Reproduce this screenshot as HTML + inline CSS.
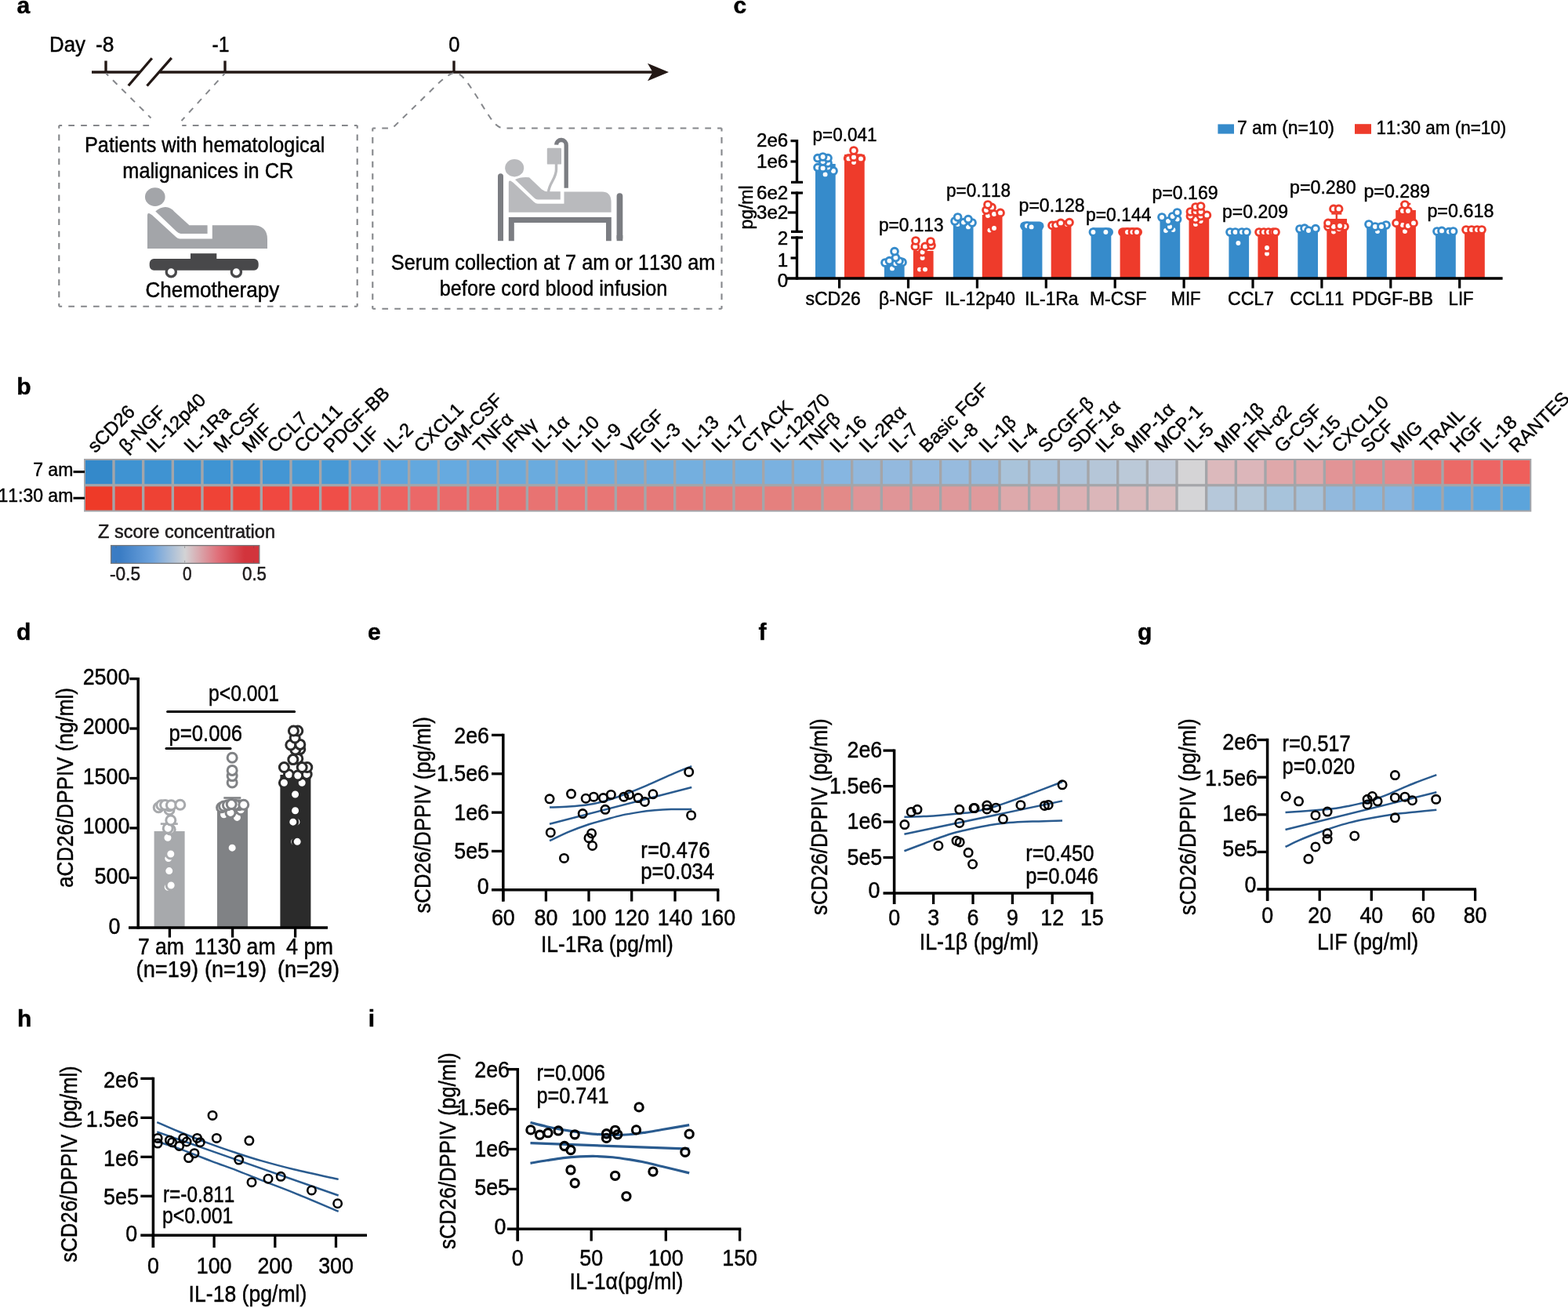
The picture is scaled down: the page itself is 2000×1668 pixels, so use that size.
<!DOCTYPE html>
<html lang="en">
<head>
<meta charset="utf-8">
<title>Figure: sCD26/DPPIV circadian serum levels and cytokine correlations</title>
<style>
html,body{margin:0;padding:0;background:#fff;}
body{width:2000px;height:1668px;overflow:hidden;}
svg{display:block;}
svg text{font-family:"Liberation Sans", Arial, Helvetica, sans-serif;stroke:#000;stroke-width:0.45px;font-kerning:none;}
</style>
</head>
<body>
<svg width="2000" height="1668" viewBox="0 0 2000 1668">
<rect width="2000" height="1668" fill="#fff"/>
<text transform="translate(21.50 17.00)" x="0.00" y="0" font-size="30" font-weight="bold">a</text>
<text transform="translate(63.00 66.00) scale(0.9305 1)" x="0.00" y="0" font-size="27.8">Day</text>
<text transform="translate(122.00 66.00) scale(0.9506 1)" x="0.00" y="0" font-size="27.8">-8</text>
<text transform="translate(270.60 66.00) scale(0.8900 1)" x="0.00" y="0" font-size="27.8">-1</text>
<text transform="translate(572.30 66.00) scale(0.9184 1)" x="0.00" y="0" font-size="27.8">0</text>
<line x1="117.00" y1="92.00" x2="178.50" y2="92.00" stroke="#231815" stroke-width="3.6" />
<line x1="203.50" y1="92.00" x2="834.00" y2="92.00" stroke="#231815" stroke-width="3.6" />
<line x1="135.00" y1="77.50" x2="135.00" y2="92.00" stroke="#231815" stroke-width="3.4" />
<line x1="287.00" y1="77.50" x2="287.00" y2="92.00" stroke="#231815" stroke-width="3.4" />
<line x1="579.00" y1="77.50" x2="579.00" y2="92.00" stroke="#231815" stroke-width="3.4" />
<path d="M853 92 L826 80.8 L832.5 92 L826 103.2 Z" fill="#231815" stroke="none" stroke-width="1" />
<line x1="163.80" y1="109.30" x2="193.80" y2="74.30" stroke="#231815" stroke-width="3.3" />
<line x1="187.50" y1="109.50" x2="218.80" y2="73.80" stroke="#231815" stroke-width="3.3" />
<line x1="135.20" y1="93.50" x2="192.50" y2="150.50" stroke="#85878b" stroke-width="2" stroke-dasharray="7.7 8.2" stroke-dashoffset="3.5"/>
<line x1="286.80" y1="93.50" x2="231.50" y2="154.00" stroke="#85878b" stroke-width="2" stroke-dasharray="7.7 8.2" stroke-dashoffset="3.5"/>
<line x1="75.30" y1="160.00" x2="190.21" y2="160.00" stroke="#85878b" stroke-width="2.1" stroke-dasharray="7.700 8.150" stroke-dashoffset="3.850"/>
<line x1="455.70" y1="160.00" x2="232.22" y2="160.00" stroke="#85878b" stroke-width="2.1" stroke-dasharray="7.700 8.150" stroke-dashoffset="3.850"/>
<line x1="75.30" y1="390.80" x2="455.70" y2="390.80" stroke="#85878b" stroke-width="2.1" stroke-dasharray="7.700 8.150" stroke-dashoffset="3.850"/>
<line x1="75.30" y1="160.00" x2="75.30" y2="390.80" stroke="#85878b" stroke-width="2.1" stroke-dasharray="7.700 7.687" stroke-dashoffset="3.850"/>
<line x1="455.70" y1="160.00" x2="455.70" y2="390.80" stroke="#85878b" stroke-width="2.1" stroke-dasharray="7.700 7.687" stroke-dashoffset="3.850"/>
<line x1="475.30" y1="393.80" x2="920.50" y2="393.80" stroke="#85878b" stroke-width="2.1" stroke-dasharray="7.700 8.200" stroke-dashoffset="3.850"/>
<line x1="475.30" y1="163.60" x2="475.30" y2="393.80" stroke="#85878b" stroke-width="2.1" stroke-dasharray="7.700 7.647" stroke-dashoffset="3.850"/>
<line x1="920.50" y1="163.60" x2="920.50" y2="393.80" stroke="#85878b" stroke-width="2.1" stroke-dasharray="7.700 7.647" stroke-dashoffset="3.850"/>
<path d="M475.3 163.6 L498.5 163.6 L501.8 162.2 L561 104.5 C569 97.5 576 92.8 580.6 92.8 C585 92.8 590 97.5 594 102.5 C606 118 616 137 627 152.5 C632 159.5 637 163.6 643 163.6 L920.5 163.6" fill="none" stroke="#85878b" stroke-width="2" stroke-dasharray="7.7 8.1" stroke-dashoffset="3.85"/>
<text transform="translate(108.00 193.80) scale(0.9098 1)" x="0.00" y="0" font-size="27.8">Patients with hematological</text>
<text transform="translate(156.30 227.00) scale(0.9102 1)" x="0.00" y="0" font-size="27.8">malignanices in CR</text>
<text transform="translate(185.50 378.80) scale(0.9367 1)" x="0.00" y="0" font-size="27.8">Chemotherapy</text>
<text transform="translate(498.80 343.80) scale(0.9106 1)" x="0.00" y="0" font-size="27.8">Serum collection at 7 am or 1130 am</text>
<text transform="translate(560.80 377.00) scale(0.9080 1)" x="0.00" y="0" font-size="27.8">before cord blood infusion</text>
<ellipse cx="197.8" cy="251.2" rx="12.8" ry="11.9" fill="#a3a5a9"/>
<path d="M198.3 269.5 Q204 264.3 211 264 Q218 264.3 222.5 270 L241.5 287.3 L264.6 287.3 L264.6 298 L230.5 298 Q227.5 297.5 225 295 Z" fill="#a3a5a9" stroke="none" stroke-width="1" />
<path d="M188 274.5 Q188 271.3 190.8 272.3 L194 274.2 L224.5 302.3 Q227 304.5 229.5 304.5 L270.8 304.5 L270.8 287.3 L322 287.3 Q341 287.3 341 305 L341 317 L188 317 Z" fill="#a3a5a9" stroke="none" stroke-width="1" />
<rect x="243.00" y="323.20" width="33.30" height="9.00" fill="#48484a" />
<rect x="190.70" y="329.90" width="139.00" height="14.90" fill="#48484a" rx="5.5" ry="6"/>
<circle cx="218.30" cy="346.70" r="6.10" fill="#fff" stroke="#48484a" stroke-width="3.3"/>
<circle cx="301.40" cy="346.70" r="6.10" fill="#fff" stroke="#48484a" stroke-width="3.3"/>
<rect x="635.00" y="221.30" width="7.00" height="85.80" fill="#7b7d82" rx="3.5" ry="3.5"/>
<rect x="635.00" y="300.00" width="7.00" height="7.20" fill="#7b7d82" />
<rect x="786.60" y="246.30" width="7.70" height="60.80" fill="#7b7d82" rx="3.8" ry="3.8"/>
<rect x="786.60" y="300.00" width="7.70" height="7.20" fill="#7b7d82" />
<path d="M648.8 277 L779.8 277 L779.8 307.2 L773 307.2 L773 284 L655.8 284 L655.8 307.2 L648.8 307.2 Z" fill="#7b7d82" stroke="none" stroke-width="1" />
<path d="M648.8 232.8 Q648.8 229.8 651.5 230.8 L654.5 232.8 L681 257.5 Q683.5 259.8 686 259.8 L719.5 259.8 L719.5 244.5 L768 244.5 Q779.6 244.5 779.6 258 L779.6 270.8 L648.8 270.8 Z" fill="#b9babd" stroke="none" stroke-width="1" />
<ellipse cx="656.2" cy="214.2" rx="12" ry="11.2" fill="#b9babd"/>
<path d="M657 229 Q664 225.2 675 226.2 L691 241.5 Q694.5 244.2 698 244.2 L714.8 244.2 L714.8 254.6 L686 254.6 Q683.5 254.4 681.5 252.5 Z" fill="#b9babd" stroke="none" stroke-width="1" />
<path d="M722.2 239.8 L722.2 185 A6.3 6.3 0 0 0 709.6 184.6" fill="none" stroke="#7b7d82" stroke-width="5.3" />
<rect x="697.80" y="188.80" width="18.20" height="20.80" fill="#b9babd" rx="1.2" ry="1.2"/>
<path d="M709.5 209 L709.5 216 C709.5 228 700.5 233 699.5 245" fill="none" stroke="#b9babd" stroke-width="3.4" />
<text transform="translate(935.50 17.00)" x="0.00" y="0" font-size="30" font-weight="bold" stroke-width="0.15">c</text>
<rect x="1040.00" y="209.00" width="25.70" height="146.00" fill="#368bcb" />
<rect x="1077.00" y="197.00" width="25.70" height="158.00" fill="#ee3b2b" />
<line x1="1070.60" y1="355.00" x2="1070.60" y2="367.60" stroke="#000" stroke-width="3.2" />
<text transform="translate(1027.40 389.00) scale(1.0042 1)" x="0.00" y="0" font-size="23" stroke-width="0.15">sCD26</text>
<text transform="translate(1036.60 179.60) scale(0.9787 1)" x="0.00" y="0" font-size="23" stroke-width="0.15">p=0.041</text>
<rect x="1127.90" y="335.00" width="25.70" height="20.00" fill="#368bcb" />
<rect x="1164.90" y="320.00" width="25.70" height="35.00" fill="#ee3b2b" />
<line x1="1158.50" y1="355.00" x2="1158.50" y2="367.60" stroke="#000" stroke-width="3.2" />
<text transform="translate(1121.00 389.00) scale(0.9937 1)" x="0.00" y="0" font-size="23" stroke-width="0.15">β-NGF</text>
<text transform="translate(1121.00 295.00) scale(0.9859 1)" x="0.00" y="0" font-size="23" stroke-width="0.15">p=0.113</text>
<rect x="1215.80" y="284.00" width="25.70" height="71.00" fill="#368bcb" />
<rect x="1252.80" y="274.00" width="25.70" height="81.00" fill="#ee3b2b" />
<line x1="1246.40" y1="355.00" x2="1246.40" y2="367.60" stroke="#000" stroke-width="3.2" />
<text transform="translate(1205.00 389.00) scale(0.9912 1)" x="0.00" y="0" font-size="23" stroke-width="0.15">IL-12p40</text>
<text transform="translate(1207.00 251.00) scale(0.9787 1)" x="0.00" y="0" font-size="23" stroke-width="0.15">p=0.118</text>
<rect x="1303.70" y="288.00" width="25.70" height="67.00" fill="#368bcb" />
<rect x="1340.70" y="287.00" width="25.70" height="68.00" fill="#ee3b2b" />
<line x1="1334.30" y1="355.00" x2="1334.30" y2="367.60" stroke="#000" stroke-width="3.2" />
<text transform="translate(1307.00 389.00) scale(0.9937 1)" x="0.00" y="0" font-size="23" stroke-width="0.15">IL-1Ra</text>
<text transform="translate(1299.60 270.00) scale(1.0026 1)" x="0.00" y="0" font-size="23" stroke-width="0.15">p=0.128</text>
<rect x="1391.60" y="296.00" width="25.70" height="59.00" fill="#368bcb" />
<rect x="1428.60" y="296.00" width="25.70" height="59.00" fill="#ee3b2b" />
<line x1="1422.20" y1="355.00" x2="1422.20" y2="367.60" stroke="#000" stroke-width="3.2" />
<text transform="translate(1390.00 389.00) scale(0.9942 1)" x="0.00" y="0" font-size="23" stroke-width="0.15">M-CSF</text>
<text transform="translate(1385.00 282.00) scale(0.9955 1)" x="0.00" y="0" font-size="23" stroke-width="0.15">p=0.144</text>
<rect x="1479.50" y="280.00" width="25.70" height="75.00" fill="#368bcb" />
<rect x="1516.50" y="274.00" width="25.70" height="81.00" fill="#ee3b2b" />
<line x1="1510.10" y1="355.00" x2="1510.10" y2="367.60" stroke="#000" stroke-width="3.2" />
<text transform="translate(1493.60 389.00) scale(0.9596 1)" x="0.00" y="0" font-size="23" stroke-width="0.15">MIF</text>
<text transform="translate(1469.60 254.00) scale(1.0026 1)" x="0.00" y="0" font-size="23" stroke-width="0.15">p=0.169</text>
<rect x="1567.40" y="296.00" width="25.70" height="59.00" fill="#368bcb" />
<rect x="1604.40" y="296.00" width="25.70" height="59.00" fill="#ee3b2b" />
<line x1="1598.00" y1="355.00" x2="1598.00" y2="367.60" stroke="#000" stroke-width="3.2" />
<text transform="translate(1566.00 389.00) scale(1.0033 1)" x="0.00" y="0" font-size="23" stroke-width="0.15">CCL7</text>
<text transform="translate(1559.00 278.00) scale(1.0026 1)" x="0.00" y="0" font-size="23" stroke-width="0.15">p=0.209</text>
<rect x="1655.30" y="292.00" width="25.70" height="63.00" fill="#368bcb" />
<rect x="1692.30" y="279.00" width="25.70" height="76.00" fill="#ee3b2b" />
<line x1="1685.90" y1="355.00" x2="1685.90" y2="367.60" stroke="#000" stroke-width="3.2" />
<text transform="translate(1645.60 389.00) scale(0.9609 1)" x="0.00" y="0" font-size="23" stroke-width="0.15">CCL11</text>
<text transform="translate(1645.00 246.60) scale(1.0098 1)" x="0.00" y="0" font-size="23" stroke-width="0.15">p=0.280</text>
<rect x="1743.20" y="288.00" width="25.70" height="67.00" fill="#368bcb" />
<rect x="1780.20" y="268.00" width="25.70" height="87.00" fill="#ee3b2b" />
<line x1="1773.80" y1="355.00" x2="1773.80" y2="367.60" stroke="#000" stroke-width="3.2" />
<text transform="translate(1724.40 389.00) scale(1.0134 1)" x="0.00" y="0" font-size="23" stroke-width="0.15">PDGF-BB</text>
<text transform="translate(1739.40 251.60) scale(1.0098 1)" x="0.00" y="0" font-size="23" stroke-width="0.15">p=0.289</text>
<rect x="1831.10" y="295.00" width="25.70" height="60.00" fill="#368bcb" />
<rect x="1868.10" y="293.00" width="25.70" height="62.00" fill="#ee3b2b" />
<line x1="1861.70" y1="355.00" x2="1861.70" y2="367.60" stroke="#000" stroke-width="3.2" />
<text transform="translate(1847.60 389.00) scale(0.9629 1)" x="0.00" y="0" font-size="23" stroke-width="0.15">LIF</text>
<text transform="translate(1820.40 277.00) scale(1.0145 1)" x="0.00" y="0" font-size="23" stroke-width="0.15">p=0.618</text>
<line x1="1016.50" y1="178.00" x2="1016.50" y2="234.00" stroke="#000" stroke-width="3.4" />
<line x1="1016.50" y1="244.40" x2="1016.50" y2="297.00" stroke="#000" stroke-width="3.4" />
<line x1="1016.50" y1="301.40" x2="1016.50" y2="356.60" stroke="#000" stroke-width="3.4" />
<line x1="1008.50" y1="179.60" x2="1016.50" y2="179.60" stroke="#000" stroke-width="3.2" />
<line x1="1008.50" y1="206.00" x2="1016.50" y2="206.00" stroke="#000" stroke-width="3.2" />
<line x1="1004.80" y1="271.00" x2="1016.50" y2="271.00" stroke="#000" stroke-width="3.2" />
<line x1="1008.50" y1="329.00" x2="1016.50" y2="329.00" stroke="#000" stroke-width="3.2" />
<line x1="1009.00" y1="232.40" x2="1024.00" y2="232.40" stroke="#000" stroke-width="3.2" />
<line x1="1009.00" y1="246.00" x2="1024.00" y2="246.00" stroke="#000" stroke-width="3.2" />
<line x1="1009.00" y1="295.40" x2="1024.00" y2="295.40" stroke="#000" stroke-width="3.2" />
<line x1="1009.00" y1="303.00" x2="1024.00" y2="303.00" stroke="#000" stroke-width="3.2" />
<line x1="1004.00" y1="355.00" x2="1916.60" y2="355.00" stroke="#000" stroke-width="3.4" />
<text transform="translate(1005.30 186.60) scale(1.0500 1)" x="-38.38" y="0" font-size="23" stroke-width="0.15">2e6</text>
<text transform="translate(1005.30 213.60) scale(1.0500 1)" x="-38.38" y="0" font-size="23" stroke-width="0.15">1e6</text>
<text transform="translate(1005.30 254.00) scale(1.0500 1)" x="-38.38" y="0" font-size="23" stroke-width="0.15">6e2</text>
<text transform="translate(1005.30 278.60) scale(1.0500 1)" x="-38.38" y="0" font-size="23" stroke-width="0.15">3e2</text>
<text transform="translate(1005.30 311.60) scale(1.0500 1)" x="-12.79" y="0" font-size="23" stroke-width="0.15">2</text>
<text transform="translate(1005.30 340.00) scale(1.0500 1)" x="-12.79" y="0" font-size="23" stroke-width="0.15">1</text>
<text transform="translate(1005.30 366.20) scale(1.0500 1)" x="-12.79" y="0" font-size="23" stroke-width="0.15">0</text>
<text transform="translate(960.00 264.50) rotate(-90)" x="-28.12" y="0" font-size="23" stroke-width="0.15">pg/ml</text>
<line x1="1704.80" y1="272.40" x2="1704.80" y2="280.00" stroke="#ee3b2b" stroke-width="2.4" />
<line x1="1698.30" y1="272.40" x2="1711.30" y2="272.40" stroke="#ee3b2b" stroke-width="2.4" />
<line x1="1792.80" y1="260.00" x2="1792.80" y2="269.00" stroke="#ee3b2b" stroke-width="2.4" />
<line x1="1786.30" y1="260.00" x2="1799.30" y2="260.00" stroke="#ee3b2b" stroke-width="2.4" />
<line x1="1081.50" y1="202.00" x2="1098.50" y2="202.00" stroke="#ee3b2b" stroke-width="11.4" stroke-linecap="round"/>
<line x1="1306.80" y1="288.20" x2="1325.80" y2="288.20" stroke="#368bcb" stroke-width="11.4" stroke-linecap="round"/>
<line x1="1394.80" y1="296.00" x2="1414.30" y2="296.00" stroke="#368bcb" stroke-width="11.4" stroke-linecap="round"/>
<line x1="1431.80" y1="296.00" x2="1451.30" y2="296.00" stroke="#ee3b2b" stroke-width="11.4" stroke-linecap="round"/>
<circle cx="1052.60" cy="222.40" r="4.40" fill="#fff" stroke="#368bcb" stroke-width="2.9"/>
<circle cx="1063.00" cy="218.00" r="4.40" fill="#fff" stroke="#368bcb" stroke-width="2.9"/>
<circle cx="1043.00" cy="213.60" r="4.40" fill="#fff" stroke="#368bcb" stroke-width="2.9"/>
<circle cx="1056.00" cy="213.60" r="4.40" fill="#fff" stroke="#368bcb" stroke-width="2.9"/>
<circle cx="1049.60" cy="214.40" r="4.40" fill="#fff" stroke="#368bcb" stroke-width="2.9"/>
<circle cx="1056.00" cy="208.00" r="4.40" fill="#fff" stroke="#368bcb" stroke-width="2.9"/>
<circle cx="1049.60" cy="206.00" r="4.40" fill="#fff" stroke="#368bcb" stroke-width="2.9"/>
<circle cx="1043.00" cy="201.60" r="4.40" fill="#fff" stroke="#368bcb" stroke-width="2.9"/>
<circle cx="1056.00" cy="201.60" r="4.40" fill="#fff" stroke="#368bcb" stroke-width="2.9"/>
<circle cx="1049.60" cy="200.00" r="4.40" fill="#fff" stroke="#368bcb" stroke-width="2.9"/>
<circle cx="1089.00" cy="207.00" r="4.40" fill="#fff" stroke="#ee3b2b" stroke-width="2.9"/>
<circle cx="1082.40" cy="202.40" r="4.40" fill="#fff" stroke="#ee3b2b" stroke-width="2.9"/>
<circle cx="1089.00" cy="200.40" r="4.40" fill="#fff" stroke="#ee3b2b" stroke-width="2.9"/>
<circle cx="1098.00" cy="202.40" r="4.40" fill="#fff" stroke="#ee3b2b" stroke-width="2.9"/>
<circle cx="1089.00" cy="192.00" r="4.40" fill="#fff" stroke="#ee3b2b" stroke-width="2.9"/>
<circle cx="1138.00" cy="342.40" r="4.40" fill="#fff" stroke="#368bcb" stroke-width="2.9"/>
<circle cx="1129.00" cy="335.00" r="4.40" fill="#fff" stroke="#368bcb" stroke-width="2.9"/>
<circle cx="1151.00" cy="334.40" r="4.40" fill="#fff" stroke="#368bcb" stroke-width="2.9"/>
<circle cx="1142.40" cy="336.00" r="4.40" fill="#fff" stroke="#368bcb" stroke-width="2.9"/>
<circle cx="1134.40" cy="332.60" r="4.40" fill="#fff" stroke="#368bcb" stroke-width="2.9"/>
<circle cx="1147.00" cy="333.00" r="4.40" fill="#fff" stroke="#368bcb" stroke-width="2.9"/>
<circle cx="1142.40" cy="328.60" r="4.40" fill="#fff" stroke="#368bcb" stroke-width="2.9"/>
<circle cx="1141.00" cy="320.60" r="4.40" fill="#fff" stroke="#368bcb" stroke-width="2.9"/>
<circle cx="1173.00" cy="343.60" r="4.40" fill="#fff" stroke="#ee3b2b" stroke-width="2.9"/>
<circle cx="1180.00" cy="343.60" r="4.40" fill="#fff" stroke="#ee3b2b" stroke-width="2.9"/>
<circle cx="1176.60" cy="329.00" r="4.40" fill="#fff" stroke="#ee3b2b" stroke-width="2.9"/>
<circle cx="1176.60" cy="321.60" r="4.40" fill="#fff" stroke="#ee3b2b" stroke-width="2.9"/>
<circle cx="1167.40" cy="314.40" r="4.40" fill="#fff" stroke="#ee3b2b" stroke-width="2.9"/>
<circle cx="1180.00" cy="314.40" r="4.40" fill="#fff" stroke="#ee3b2b" stroke-width="2.9"/>
<circle cx="1188.00" cy="313.00" r="4.40" fill="#fff" stroke="#ee3b2b" stroke-width="2.9"/>
<circle cx="1168.00" cy="307.00" r="4.40" fill="#fff" stroke="#ee3b2b" stroke-width="2.9"/>
<circle cx="1187.00" cy="308.00" r="4.40" fill="#fff" stroke="#ee3b2b" stroke-width="2.9"/>
<circle cx="1235.00" cy="289.40" r="4.40" fill="#fff" stroke="#368bcb" stroke-width="2.9"/>
<circle cx="1221.60" cy="286.00" r="4.40" fill="#fff" stroke="#368bcb" stroke-width="2.9"/>
<circle cx="1240.00" cy="284.00" r="4.40" fill="#fff" stroke="#368bcb" stroke-width="2.9"/>
<circle cx="1218.00" cy="282.00" r="4.40" fill="#fff" stroke="#368bcb" stroke-width="2.9"/>
<circle cx="1229.00" cy="283.60" r="4.40" fill="#fff" stroke="#368bcb" stroke-width="2.9"/>
<circle cx="1235.00" cy="279.60" r="4.40" fill="#fff" stroke="#368bcb" stroke-width="2.9"/>
<circle cx="1221.60" cy="277.00" r="4.40" fill="#fff" stroke="#368bcb" stroke-width="2.9"/>
<circle cx="1262.40" cy="293.60" r="4.40" fill="#fff" stroke="#ee3b2b" stroke-width="2.9"/>
<circle cx="1268.00" cy="291.00" r="4.40" fill="#fff" stroke="#ee3b2b" stroke-width="2.9"/>
<circle cx="1260.00" cy="275.00" r="4.40" fill="#fff" stroke="#ee3b2b" stroke-width="2.9"/>
<circle cx="1268.00" cy="273.00" r="4.40" fill="#fff" stroke="#ee3b2b" stroke-width="2.9"/>
<circle cx="1276.00" cy="271.40" r="4.40" fill="#fff" stroke="#ee3b2b" stroke-width="2.9"/>
<circle cx="1258.00" cy="268.00" r="4.40" fill="#fff" stroke="#ee3b2b" stroke-width="2.9"/>
<circle cx="1265.00" cy="264.40" r="4.40" fill="#fff" stroke="#ee3b2b" stroke-width="2.9"/>
<circle cx="1260.00" cy="261.00" r="4.40" fill="#fff" stroke="#ee3b2b" stroke-width="2.9"/>
<circle cx="1310.00" cy="288.00" r="4.40" fill="#fff" stroke="#368bcb" stroke-width="2.9"/>
<circle cx="1315.60" cy="289.40" r="4.40" fill="#fff" stroke="#368bcb" stroke-width="2.9"/>
<circle cx="1342.00" cy="287.40" r="4.40" fill="#fff" stroke="#ee3b2b" stroke-width="2.9"/>
<circle cx="1347.00" cy="287.20" r="4.40" fill="#fff" stroke="#ee3b2b" stroke-width="2.9"/>
<circle cx="1361.00" cy="286.00" r="4.40" fill="#fff" stroke="#ee3b2b" stroke-width="2.9"/>
<circle cx="1364.00" cy="283.60" r="4.40" fill="#fff" stroke="#ee3b2b" stroke-width="2.9"/>
<circle cx="1353.00" cy="284.40" r="4.40" fill="#fff" stroke="#ee3b2b" stroke-width="2.9"/>
<circle cx="1394.40" cy="296.00" r="4.40" fill="#fff" stroke="#368bcb" stroke-width="2.9"/>
<circle cx="1410.40" cy="296.00" r="4.40" fill="#fff" stroke="#368bcb" stroke-width="2.9"/>
<circle cx="1438.00" cy="296.00" r="4.40" fill="#fff" stroke="#ee3b2b" stroke-width="2.9"/>
<circle cx="1444.40" cy="296.00" r="4.40" fill="#fff" stroke="#ee3b2b" stroke-width="2.9"/>
<circle cx="1450.00" cy="296.00" r="4.40" fill="#fff" stroke="#ee3b2b" stroke-width="2.9"/>
<circle cx="1487.00" cy="294.00" r="4.40" fill="#fff" stroke="#368bcb" stroke-width="2.9"/>
<circle cx="1496.40" cy="293.00" r="4.40" fill="#fff" stroke="#368bcb" stroke-width="2.9"/>
<circle cx="1492.00" cy="289.00" r="4.40" fill="#fff" stroke="#368bcb" stroke-width="2.9"/>
<circle cx="1490.00" cy="282.00" r="4.40" fill="#fff" stroke="#368bcb" stroke-width="2.9"/>
<circle cx="1501.60" cy="279.60" r="4.40" fill="#fff" stroke="#368bcb" stroke-width="2.9"/>
<circle cx="1495.60" cy="276.00" r="4.40" fill="#fff" stroke="#368bcb" stroke-width="2.9"/>
<circle cx="1482.00" cy="277.00" r="4.40" fill="#fff" stroke="#368bcb" stroke-width="2.9"/>
<circle cx="1501.60" cy="271.00" r="4.40" fill="#fff" stroke="#368bcb" stroke-width="2.9"/>
<circle cx="1525.00" cy="286.00" r="4.40" fill="#fff" stroke="#ee3b2b" stroke-width="2.9"/>
<circle cx="1531.60" cy="282.00" r="4.40" fill="#fff" stroke="#ee3b2b" stroke-width="2.9"/>
<circle cx="1525.00" cy="279.60" r="4.40" fill="#fff" stroke="#ee3b2b" stroke-width="2.9"/>
<circle cx="1518.40" cy="275.60" r="4.40" fill="#fff" stroke="#ee3b2b" stroke-width="2.9"/>
<circle cx="1531.60" cy="275.60" r="4.40" fill="#fff" stroke="#ee3b2b" stroke-width="2.9"/>
<circle cx="1539.40" cy="274.40" r="4.40" fill="#fff" stroke="#ee3b2b" stroke-width="2.9"/>
<circle cx="1518.40" cy="270.00" r="4.40" fill="#fff" stroke="#ee3b2b" stroke-width="2.9"/>
<circle cx="1525.00" cy="270.00" r="4.40" fill="#fff" stroke="#ee3b2b" stroke-width="2.9"/>
<circle cx="1531.60" cy="270.00" r="4.40" fill="#fff" stroke="#ee3b2b" stroke-width="2.9"/>
<circle cx="1525.00" cy="264.00" r="4.40" fill="#fff" stroke="#ee3b2b" stroke-width="2.9"/>
<circle cx="1531.60" cy="263.00" r="4.40" fill="#fff" stroke="#ee3b2b" stroke-width="2.9"/>
<circle cx="1579.40" cy="310.00" r="4.40" fill="#fff" stroke="#368bcb" stroke-width="2.9"/>
<circle cx="1569.00" cy="296.00" r="4.40" fill="#fff" stroke="#368bcb" stroke-width="2.9"/>
<circle cx="1575.60" cy="296.00" r="4.40" fill="#fff" stroke="#368bcb" stroke-width="2.9"/>
<circle cx="1584.00" cy="296.00" r="4.40" fill="#fff" stroke="#368bcb" stroke-width="2.9"/>
<circle cx="1590.00" cy="296.00" r="4.40" fill="#fff" stroke="#368bcb" stroke-width="2.9"/>
<circle cx="1616.00" cy="323.60" r="4.40" fill="#fff" stroke="#ee3b2b" stroke-width="2.9"/>
<circle cx="1616.00" cy="316.00" r="4.40" fill="#fff" stroke="#ee3b2b" stroke-width="2.9"/>
<circle cx="1606.00" cy="296.00" r="4.40" fill="#fff" stroke="#ee3b2b" stroke-width="2.9"/>
<circle cx="1612.00" cy="296.00" r="4.40" fill="#fff" stroke="#ee3b2b" stroke-width="2.9"/>
<circle cx="1618.00" cy="296.00" r="4.40" fill="#fff" stroke="#ee3b2b" stroke-width="2.9"/>
<circle cx="1624.00" cy="296.00" r="4.40" fill="#fff" stroke="#ee3b2b" stroke-width="2.9"/>
<circle cx="1627.00" cy="296.00" r="4.40" fill="#fff" stroke="#ee3b2b" stroke-width="2.9"/>
<circle cx="1658.00" cy="292.00" r="4.40" fill="#fff" stroke="#368bcb" stroke-width="2.9"/>
<circle cx="1664.00" cy="291.20" r="4.40" fill="#fff" stroke="#368bcb" stroke-width="2.9"/>
<circle cx="1678.00" cy="291.60" r="4.40" fill="#fff" stroke="#368bcb" stroke-width="2.9"/>
<circle cx="1669.00" cy="294.00" r="4.40" fill="#fff" stroke="#368bcb" stroke-width="2.9"/>
<circle cx="1701.00" cy="295.60" r="4.40" fill="#fff" stroke="#ee3b2b" stroke-width="2.9"/>
<circle cx="1694.00" cy="289.00" r="4.40" fill="#fff" stroke="#ee3b2b" stroke-width="2.9"/>
<circle cx="1715.00" cy="289.00" r="4.40" fill="#fff" stroke="#ee3b2b" stroke-width="2.9"/>
<circle cx="1708.00" cy="292.00" r="4.40" fill="#fff" stroke="#ee3b2b" stroke-width="2.9"/>
<circle cx="1701.00" cy="289.00" r="4.40" fill="#fff" stroke="#ee3b2b" stroke-width="2.9"/>
<circle cx="1709.00" cy="288.00" r="4.40" fill="#fff" stroke="#ee3b2b" stroke-width="2.9"/>
<circle cx="1694.00" cy="284.40" r="4.40" fill="#fff" stroke="#ee3b2b" stroke-width="2.9"/>
<circle cx="1701.00" cy="266.40" r="4.40" fill="#fff" stroke="#ee3b2b" stroke-width="2.9"/>
<circle cx="1707.60" cy="266.40" r="4.40" fill="#fff" stroke="#ee3b2b" stroke-width="2.9"/>
<circle cx="1757.00" cy="295.00" r="4.40" fill="#fff" stroke="#368bcb" stroke-width="2.9"/>
<circle cx="1746.00" cy="286.00" r="4.40" fill="#fff" stroke="#368bcb" stroke-width="2.9"/>
<circle cx="1768.00" cy="287.00" r="4.40" fill="#fff" stroke="#368bcb" stroke-width="2.9"/>
<circle cx="1754.00" cy="289.00" r="4.40" fill="#fff" stroke="#368bcb" stroke-width="2.9"/>
<circle cx="1762.00" cy="289.00" r="4.40" fill="#fff" stroke="#368bcb" stroke-width="2.9"/>
<circle cx="1792.00" cy="295.00" r="4.40" fill="#fff" stroke="#ee3b2b" stroke-width="2.9"/>
<circle cx="1789.00" cy="287.00" r="4.40" fill="#fff" stroke="#ee3b2b" stroke-width="2.9"/>
<circle cx="1796.00" cy="288.00" r="4.40" fill="#fff" stroke="#ee3b2b" stroke-width="2.9"/>
<circle cx="1781.00" cy="284.40" r="4.40" fill="#fff" stroke="#ee3b2b" stroke-width="2.9"/>
<circle cx="1803.00" cy="284.40" r="4.40" fill="#fff" stroke="#ee3b2b" stroke-width="2.9"/>
<circle cx="1789.00" cy="269.00" r="4.40" fill="#fff" stroke="#ee3b2b" stroke-width="2.9"/>
<circle cx="1796.00" cy="269.00" r="4.40" fill="#fff" stroke="#ee3b2b" stroke-width="2.9"/>
<circle cx="1792.00" cy="261.00" r="4.40" fill="#fff" stroke="#ee3b2b" stroke-width="2.9"/>
<circle cx="1833.00" cy="295.00" r="4.40" fill="#fff" stroke="#368bcb" stroke-width="2.9"/>
<circle cx="1839.00" cy="294.40" r="4.40" fill="#fff" stroke="#368bcb" stroke-width="2.9"/>
<circle cx="1848.00" cy="295.60" r="4.40" fill="#fff" stroke="#368bcb" stroke-width="2.9"/>
<circle cx="1853.60" cy="295.00" r="4.40" fill="#fff" stroke="#368bcb" stroke-width="2.9"/>
<circle cx="1870.00" cy="293.00" r="4.40" fill="#fff" stroke="#ee3b2b" stroke-width="2.9"/>
<circle cx="1877.00" cy="293.00" r="4.40" fill="#fff" stroke="#ee3b2b" stroke-width="2.9"/>
<circle cx="1884.00" cy="293.00" r="4.40" fill="#fff" stroke="#ee3b2b" stroke-width="2.9"/>
<circle cx="1890.00" cy="293.00" r="4.40" fill="#fff" stroke="#ee3b2b" stroke-width="2.9"/>
<rect x="1553.40" y="158.40" width="20.60" height="12.20" fill="#368bcb" />
<text transform="translate(1578.00 171.00) scale(0.9948 1)" x="0.00" y="0" font-size="23" stroke-width="0.15">7 am (n=10)</text>
<rect x="1728.00" y="158.20" width="21.00" height="12.60" fill="#ee3b2b" />
<text transform="translate(1755.60 171.00) scale(0.9787 1)" x="0.00" y="0" font-size="23" stroke-width="0.15">11:30 am (n=10)</text>
<text transform="translate(21.30 503.00)" x="0.00" y="0" font-size="30" font-weight="bold" stroke-width="0.22">b</text>
<rect x="107.00" y="585.00" width="1846.30" height="67.60" fill="#a4a5a9" />
<rect x="109.00" y="587.00" width="34.30" height="30.20" fill="#3489CA" />
<rect x="109.00" y="620.40" width="34.30" height="30.20" fill="#EE3A28" />
<text transform="translate(121.50 578.50) rotate(-45)" x="0.00" y="0" font-size="24" stroke-width="0.22">sCD26</text>
<rect x="146.67" y="587.00" width="34.30" height="30.20" fill="#3F93D2" />
<rect x="146.67" y="620.40" width="34.30" height="30.20" fill="#EE4133" />
<text transform="translate(161.57 578.50) rotate(-45)" x="0.00" y="0" font-size="24" stroke-width="0.22">β-NGF</text>
<rect x="184.33" y="587.00" width="34.30" height="30.20" fill="#3F93D2" />
<rect x="184.33" y="620.40" width="34.30" height="30.20" fill="#EE4234" />
<text transform="translate(196.83 578.50) rotate(-45)" x="0.00" y="0" font-size="24" stroke-width="0.22">IL-12p40</text>
<rect x="222.00" y="587.00" width="34.30" height="30.20" fill="#3F94D3" />
<rect x="222.00" y="620.40" width="34.30" height="30.20" fill="#EE4235" />
<text transform="translate(244.50 578.50) rotate(-45)" x="0.00" y="0" font-size="24" stroke-width="0.22">IL-1Ra</text>
<rect x="259.67" y="587.00" width="34.30" height="30.20" fill="#3F94D3" />
<rect x="259.67" y="620.40" width="34.30" height="30.20" fill="#EF4336" />
<text transform="translate(282.17 578.50) rotate(-45)" x="0.00" y="0" font-size="24" stroke-width="0.22">M-CSF</text>
<rect x="297.34" y="587.00" width="34.30" height="30.20" fill="#4094D3" />
<rect x="297.34" y="620.40" width="34.30" height="30.20" fill="#EF4438" />
<text transform="translate(318.84 578.50) rotate(-45)" x="0.00" y="0" font-size="24" stroke-width="0.22">MIF</text>
<rect x="335.00" y="587.00" width="34.30" height="30.20" fill="#4396D4" />
<rect x="335.00" y="620.40" width="34.30" height="30.20" fill="#F04840" />
<text transform="translate(350.50 578.50) rotate(-45)" x="0.00" y="0" font-size="24" stroke-width="0.22">CCL7</text>
<rect x="372.67" y="587.00" width="34.30" height="30.20" fill="#4699D5" />
<rect x="372.67" y="620.40" width="34.30" height="30.20" fill="#F04C46" />
<text transform="translate(385.17 578.50) rotate(-45)" x="0.00" y="0" font-size="24" stroke-width="0.22">CCL11</text>
<rect x="410.34" y="587.00" width="34.30" height="30.20" fill="#4899D5" />
<rect x="410.34" y="620.40" width="34.30" height="30.20" fill="#EF4E48" />
<text transform="translate(422.84 578.50) rotate(-45)" x="0.00" y="0" font-size="24" stroke-width="0.22">PDGF-BB</text>
<rect x="448.00" y="587.00" width="34.30" height="30.20" fill="#5A9FDB" />
<rect x="448.00" y="620.40" width="34.30" height="30.20" fill="#EE5F5C" />
<text transform="translate(460.50 578.50) rotate(-45)" x="0.00" y="0" font-size="24" stroke-width="0.22">LIF</text>
<rect x="485.67" y="587.00" width="34.30" height="30.20" fill="#5EA5DE" />
<rect x="485.67" y="620.40" width="34.30" height="30.20" fill="#ED6361" />
<text transform="translate(499.17 578.50) rotate(-45)" x="0.00" y="0" font-size="24" stroke-width="0.22">IL-2</text>
<rect x="523.34" y="587.00" width="34.30" height="30.20" fill="#63A8DE" />
<rect x="523.34" y="620.40" width="34.30" height="30.20" fill="#EB6868" />
<text transform="translate(537.84 578.50) rotate(-45)" x="0.00" y="0" font-size="24" stroke-width="0.22">CXCL1</text>
<rect x="561.00" y="587.00" width="34.30" height="30.20" fill="#66AAE0" />
<rect x="561.00" y="620.40" width="34.30" height="30.20" fill="#EA6A6A" />
<text transform="translate(575.50 578.50) rotate(-45)" x="0.00" y="0" font-size="24" stroke-width="0.22">GM-CSF</text>
<rect x="598.67" y="587.00" width="34.30" height="30.20" fill="#66A8DE" />
<rect x="598.67" y="620.40" width="34.30" height="30.20" fill="#EA6C6B" />
<text transform="translate(613.17 578.50) rotate(-45)" x="0.00" y="0" font-size="24" stroke-width="0.22">TNFα</text>
<rect x="636.34" y="587.00" width="34.30" height="30.20" fill="#68AADE" />
<rect x="636.34" y="620.40" width="34.30" height="30.20" fill="#EA6E6D" />
<text transform="translate(650.84 578.50) rotate(-45)" x="0.00" y="0" font-size="24" stroke-width="0.22">IFNγ</text>
<rect x="674.00" y="587.00" width="34.30" height="30.20" fill="#6AABDE" />
<rect x="674.00" y="620.40" width="34.30" height="30.20" fill="#E87372" />
<text transform="translate(688.50 578.50) rotate(-45)" x="0.00" y="0" font-size="24" stroke-width="0.22">IL-1α</text>
<rect x="711.67" y="587.00" width="34.30" height="30.20" fill="#6CACDF" />
<rect x="711.67" y="620.40" width="34.30" height="30.20" fill="#E97473" />
<text transform="translate(727.17 578.50) rotate(-45)" x="0.00" y="0" font-size="24" stroke-width="0.22">IL-10</text>
<rect x="749.34" y="587.00" width="34.30" height="30.20" fill="#6EADDF" />
<rect x="749.34" y="620.40" width="34.30" height="30.20" fill="#E87675" />
<text transform="translate(764.84 578.50) rotate(-45)" x="0.00" y="0" font-size="24" stroke-width="0.22">IL-9</text>
<rect x="787.01" y="587.00" width="34.30" height="30.20" fill="#72ADDC" />
<rect x="787.01" y="620.40" width="34.30" height="30.20" fill="#E67877" />
<text transform="translate(802.51 578.50) rotate(-45)" x="0.00" y="0" font-size="24" stroke-width="0.22">VEGF</text>
<rect x="824.67" y="587.00" width="34.30" height="30.20" fill="#72AEDE" />
<rect x="824.67" y="620.40" width="34.30" height="30.20" fill="#E67A79" />
<text transform="translate(840.17 578.50) rotate(-45)" x="0.00" y="0" font-size="24" stroke-width="0.22">IL-3</text>
<rect x="862.34" y="587.00" width="34.30" height="30.20" fill="#74AFDF" />
<rect x="862.34" y="620.40" width="34.30" height="30.20" fill="#E67C7B" />
<text transform="translate(879.84 578.50) rotate(-45)" x="0.00" y="0" font-size="24" stroke-width="0.22">IL-13</text>
<rect x="900.01" y="587.00" width="34.30" height="30.20" fill="#74AFDF" />
<rect x="900.01" y="620.40" width="34.30" height="30.20" fill="#E57E7C" />
<text transform="translate(917.51 578.50) rotate(-45)" x="0.00" y="0" font-size="24" stroke-width="0.22">IL-17</text>
<rect x="937.67" y="587.00" width="34.30" height="30.20" fill="#76B0DF" />
<rect x="937.67" y="620.40" width="34.30" height="30.20" fill="#E57F7D" />
<text transform="translate(955.17 578.50) rotate(-45)" x="0.00" y="0" font-size="24" stroke-width="0.22">CTACK</text>
<rect x="975.34" y="587.00" width="34.30" height="30.20" fill="#7AB1E0" />
<rect x="975.34" y="620.40" width="34.30" height="30.20" fill="#E5807E" />
<text transform="translate(992.84 578.50) rotate(-45)" x="0.00" y="0" font-size="24" stroke-width="0.22">IL-12p70</text>
<rect x="1013.01" y="587.00" width="34.30" height="30.20" fill="#7EB3E0" />
<rect x="1013.01" y="620.40" width="34.30" height="30.20" fill="#E38482" />
<text transform="translate(1030.51 578.50) rotate(-45)" x="0.00" y="0" font-size="24" stroke-width="0.22">TNFβ</text>
<rect x="1050.68" y="587.00" width="34.30" height="30.20" fill="#86B6E1" />
<rect x="1050.68" y="620.40" width="34.30" height="30.20" fill="#E38A88" />
<text transform="translate(1068.18 578.50) rotate(-45)" x="0.00" y="0" font-size="24" stroke-width="0.22">IL-16</text>
<rect x="1088.34" y="587.00" width="34.30" height="30.20" fill="#91B8DD" />
<rect x="1088.34" y="620.40" width="34.30" height="30.20" fill="#E09496" />
<text transform="translate(1105.84 578.50) rotate(-45)" x="0.00" y="0" font-size="24" stroke-width="0.22">IL-2Rα</text>
<rect x="1126.01" y="587.00" width="34.30" height="30.20" fill="#93B9DE" />
<rect x="1126.01" y="620.40" width="34.30" height="30.20" fill="#E09597" />
<text transform="translate(1143.51 578.50) rotate(-45)" x="0.00" y="0" font-size="24" stroke-width="0.22">IL-7</text>
<rect x="1163.68" y="587.00" width="34.30" height="30.20" fill="#95BADE" />
<rect x="1163.68" y="620.40" width="34.30" height="30.20" fill="#DF9799" />
<text transform="translate(1182.18 578.50) rotate(-45)" x="0.00" y="0" font-size="24" stroke-width="0.22">Basic FGF</text>
<rect x="1201.34" y="587.00" width="34.30" height="30.20" fill="#97BBDE" />
<rect x="1201.34" y="620.40" width="34.30" height="30.20" fill="#DF999B" />
<text transform="translate(1219.84 578.50) rotate(-45)" x="0.00" y="0" font-size="24" stroke-width="0.22">IL-8</text>
<rect x="1239.01" y="587.00" width="34.30" height="30.20" fill="#98BADC" />
<rect x="1239.01" y="620.40" width="34.30" height="30.20" fill="#DF9A9C" />
<text transform="translate(1258.51 578.50) rotate(-45)" x="0.00" y="0" font-size="24" stroke-width="0.22">IL-1β</text>
<rect x="1276.68" y="587.00" width="34.30" height="30.20" fill="#A9C3DA" />
<rect x="1276.68" y="620.40" width="34.30" height="30.20" fill="#DDA9AB" />
<text transform="translate(1296.18 578.50) rotate(-45)" x="0.00" y="0" font-size="24" stroke-width="0.22">IL-4</text>
<rect x="1314.34" y="587.00" width="34.30" height="30.20" fill="#AAC3DB" />
<rect x="1314.34" y="620.40" width="34.30" height="30.20" fill="#DDA9AC" />
<text transform="translate(1333.84 578.50) rotate(-45)" x="0.00" y="0" font-size="24" stroke-width="0.22">SCGF-β</text>
<rect x="1352.01" y="587.00" width="34.30" height="30.20" fill="#AFC4DA" />
<rect x="1352.01" y="620.40" width="34.30" height="30.20" fill="#DCB1B4" />
<text transform="translate(1371.51 578.50) rotate(-45)" x="0.00" y="0" font-size="24" stroke-width="0.22">SDF-1α</text>
<rect x="1389.68" y="587.00" width="34.30" height="30.20" fill="#B5C6D8" />
<rect x="1389.68" y="620.40" width="34.30" height="30.20" fill="#DBB6B9" />
<text transform="translate(1407.18 578.50) rotate(-45)" x="0.00" y="0" font-size="24" stroke-width="0.22">IL-6</text>
<rect x="1427.35" y="587.00" width="34.30" height="30.20" fill="#BBC9D8" />
<rect x="1427.35" y="620.40" width="34.30" height="30.20" fill="#DBB9BB" />
<text transform="translate(1444.85 578.50) rotate(-45)" x="0.00" y="0" font-size="24" stroke-width="0.22">MIP-1α</text>
<rect x="1465.01" y="587.00" width="34.30" height="30.20" fill="#C0CAD8" />
<rect x="1465.01" y="620.40" width="34.30" height="30.20" fill="#DABEC0" />
<text transform="translate(1482.51 578.50) rotate(-45)" x="0.00" y="0" font-size="24" stroke-width="0.22">MCP-1</text>
<rect x="1502.68" y="587.00" width="34.30" height="30.20" fill="#D5D4D6" />
<rect x="1502.68" y="620.40" width="34.30" height="30.20" fill="#D5D5D7" />
<text transform="translate(1520.18 578.50) rotate(-45)" x="0.00" y="0" font-size="24" stroke-width="0.22">IL-5</text>
<rect x="1540.35" y="587.00" width="34.30" height="30.20" fill="#DCB9BC" />
<rect x="1540.35" y="620.40" width="34.30" height="30.20" fill="#B6C8DA" />
<text transform="translate(1558.85 578.50) rotate(-45)" x="0.00" y="0" font-size="24" stroke-width="0.22">MIP-1β</text>
<rect x="1578.01" y="587.00" width="34.30" height="30.20" fill="#DCB6BA" />
<rect x="1578.01" y="620.40" width="34.30" height="30.20" fill="#B5C8D9" />
<text transform="translate(1596.51 578.50) rotate(-45)" x="0.00" y="0" font-size="24" stroke-width="0.22">IFN-α2</text>
<rect x="1615.68" y="587.00" width="34.30" height="30.20" fill="#DFA8AA" />
<rect x="1615.68" y="620.40" width="34.30" height="30.20" fill="#A7C3DB" />
<text transform="translate(1635.18 578.50) rotate(-45)" x="0.00" y="0" font-size="24" stroke-width="0.22">G-CSF</text>
<rect x="1653.35" y="587.00" width="34.30" height="30.20" fill="#DFA7A9" />
<rect x="1653.35" y="620.40" width="34.30" height="30.20" fill="#A6C2DB" />
<text transform="translate(1672.85 578.50) rotate(-45)" x="0.00" y="0" font-size="24" stroke-width="0.22">IL-15</text>
<rect x="1691.01" y="587.00" width="34.30" height="30.20" fill="#E29496" />
<rect x="1691.01" y="620.40" width="34.30" height="30.20" fill="#92B9DD" />
<text transform="translate(1708.51 578.50) rotate(-45)" x="0.00" y="0" font-size="24" stroke-width="0.22">CXCL10</text>
<rect x="1728.68" y="587.00" width="34.30" height="30.20" fill="#E48B8D" />
<rect x="1728.68" y="620.40" width="34.30" height="30.20" fill="#88B7E0" />
<text transform="translate(1745.18 578.50) rotate(-45)" x="0.00" y="0" font-size="24" stroke-width="0.22">SCF</text>
<rect x="1766.35" y="587.00" width="34.30" height="30.20" fill="#E4898B" />
<rect x="1766.35" y="620.40" width="34.30" height="30.20" fill="#86B5E0" />
<text transform="translate(1783.85 578.50) rotate(-45)" x="0.00" y="0" font-size="24" stroke-width="0.22">MIG</text>
<rect x="1804.02" y="587.00" width="34.30" height="30.20" fill="#E87471" />
<rect x="1804.02" y="620.40" width="34.30" height="30.20" fill="#6BABDF" />
<text transform="translate(1821.52 578.50) rotate(-45)" x="0.00" y="0" font-size="24" stroke-width="0.22">TRAIL</text>
<rect x="1841.68" y="587.00" width="34.30" height="30.20" fill="#EB6A67" />
<rect x="1841.68" y="620.40" width="34.30" height="30.20" fill="#64A8DE" />
<text transform="translate(1859.18 578.50) rotate(-45)" x="0.00" y="0" font-size="24" stroke-width="0.22">HGF</text>
<rect x="1879.35" y="587.00" width="34.30" height="30.20" fill="#ED6564" />
<rect x="1879.35" y="620.40" width="34.30" height="30.20" fill="#61A7DD" />
<text transform="translate(1897.85 578.50) rotate(-45)" x="0.00" y="0" font-size="24" stroke-width="0.22">IL-18</text>
<rect x="1917.02" y="587.00" width="34.30" height="30.20" fill="#EF5F5B" />
<rect x="1917.02" y="620.40" width="34.30" height="30.20" fill="#5CA4DB" />
<text transform="translate(1934.52 578.50) rotate(-45)" x="0.00" y="0" font-size="24" stroke-width="0.22">RANTES</text>
<text transform="translate(93.30 607.00)" x="-51.13" y="0" font-size="23" stroke-width="0.22">7 am</text>
<text transform="translate(93.30 640.30)" x="-95.90" y="0" font-size="23" stroke-width="0.22">11:30 am</text>
<line x1="93.50" y1="601.70" x2="108.00" y2="601.70" stroke="#000" stroke-width="3" />
<line x1="93.50" y1="635.20" x2="108.00" y2="635.20" stroke="#000" stroke-width="3" />
<defs><linearGradient id="zs" x1="0" y1="0" x2="1" y2="0"><stop offset="0" stop-color="#3a7cc4"/><stop offset="0.06" stop-color="#3a7cc4"/><stop offset="0.28" stop-color="#6ea3dc"/><stop offset="0.5" stop-color="#d3d3d5"/><stop offset="0.72" stop-color="#e0707a"/><stop offset="0.9" stop-color="#d2343c"/><stop offset="1" stop-color="#d2343c"/></linearGradient></defs>
<rect x="141.6" y="695.6" width="189.2" height="22.8" fill="url(#zs)" stroke="#77787b" stroke-width="1.3"/>
<line x1="148.00" y1="696.50" x2="148.00" y2="717.60" stroke="#55565a" stroke-width="0.8" stroke-dasharray="2.5 15.8" stroke-opacity="0.55"/>
<line x1="235.60" y1="696.50" x2="235.60" y2="717.60" stroke="#55565a" stroke-width="0.8" stroke-dasharray="2.5 15.8" stroke-opacity="0.55"/>
<line x1="323.60" y1="696.50" x2="323.60" y2="717.60" stroke="#55565a" stroke-width="0.8" stroke-dasharray="2.5 15.8" stroke-opacity="0.55"/>
<text transform="translate(125.00 685.60)" x="0.00" y="0" font-size="23.5" fill="#231f20" stroke="#231f20" stroke-width="0.22">Z score concentration</text>
<text transform="translate(140.00 740.20) scale(0.9631 1)" x="0.00" y="0" font-size="23.5" fill="#231f20" stroke="#231f20" stroke-width="0.22">-0.5</text>
<text transform="translate(233.00 740.20) scale(0.8875 1)" x="0.00" y="0" font-size="23.5" fill="#231f20" stroke="#231f20" stroke-width="0.22">0</text>
<text transform="translate(309.00 740.20) scale(0.9489 1)" x="0.00" y="0" font-size="23.5" fill="#231f20" stroke="#231f20" stroke-width="0.22">0.5</text>
<text transform="translate(21.00 815.80)" x="0.00" y="0" font-size="30" font-weight="bold">d</text>
<rect x="196.60" y="1060.00" width="39.00" height="123.00" fill="#a7a9ac" />
<rect x="277.00" y="1027.00" width="39.00" height="156.00" fill="#808285" />
<rect x="357.40" y="988.00" width="39.00" height="195.00" fill="#2b2b2b" />
<line x1="215.80" y1="1050.60" x2="215.80" y2="1061.00" stroke="#a7a9ac" stroke-width="2.6" />
<line x1="204.80" y1="1050.60" x2="226.80" y2="1050.60" stroke="#a7a9ac" stroke-width="2.6" />
<line x1="296.30" y1="1017.50" x2="296.30" y2="1028.00" stroke="#808285" stroke-width="2.6" />
<line x1="285.30" y1="1017.50" x2="307.30" y2="1017.50" stroke="#808285" stroke-width="2.6" />
<line x1="176.20" y1="863.90" x2="176.20" y2="1184.70" stroke="#000" stroke-width="3.5" />
<line x1="164.00" y1="1183.00" x2="418.00" y2="1183.00" stroke="#000" stroke-width="3.5" />
<line x1="165.30" y1="865.60" x2="176.40" y2="865.60" stroke="#000" stroke-width="3.3" />
<text transform="translate(165.30 872.90) scale(0.9150 1)" x="-65.18" y="0" font-size="29.3">2500</text>
<line x1="165.30" y1="929.05" x2="176.40" y2="929.05" stroke="#000" stroke-width="3.3" />
<text transform="translate(165.30 936.35) scale(0.9150 1)" x="-65.18" y="0" font-size="29.3">2000</text>
<line x1="165.30" y1="992.50" x2="176.40" y2="992.50" stroke="#000" stroke-width="3.3" />
<text transform="translate(165.30 999.80) scale(0.9150 1)" x="-65.18" y="0" font-size="29.3">1500</text>
<line x1="165.30" y1="1055.95" x2="176.40" y2="1055.95" stroke="#000" stroke-width="3.3" />
<text transform="translate(165.30 1063.25) scale(0.9150 1)" x="-65.18" y="0" font-size="29.3">1000</text>
<line x1="165.30" y1="1119.40" x2="176.40" y2="1119.40" stroke="#000" stroke-width="3.3" />
<text transform="translate(165.30 1126.70) scale(0.9150 1)" x="-48.89" y="0" font-size="29.3">500</text>
<text transform="translate(153.30 1190.50) scale(0.9150 1)" x="-16.30" y="0" font-size="29.3">0</text>
<line x1="216.40" y1="1183.00" x2="216.40" y2="1195.50" stroke="#000" stroke-width="3.3" />
<line x1="296.60" y1="1183.00" x2="296.60" y2="1195.50" stroke="#000" stroke-width="3.3" />
<line x1="376.60" y1="1183.00" x2="376.60" y2="1195.50" stroke="#000" stroke-width="3.3" />
<text transform="translate(92.80 1004.50) rotate(-90) scale(0.8898 1)" x="-143.29" y="0" font-size="29.3">aCD26/DPPIV (ng/ml)</text>
<text transform="translate(176.00 1217.00) scale(0.9057 1)" x="0.00" y="0" font-size="29.3">7 am</text>
<text transform="translate(248.00 1217.00) scale(0.9086 1)" x="0.00" y="0" font-size="29.3">1130 am</text>
<text transform="translate(365.00 1217.00) scale(0.9211 1)" x="0.00" y="0" font-size="29.3">4 pm</text>
<text transform="translate(173.60 1246.00) scale(0.9285 1)" x="0.00" y="0" font-size="29.3">(n=19)</text>
<text transform="translate(261.00 1246.00) scale(0.9238 1)" x="0.00" y="0" font-size="29.3">(n=19)</text>
<text transform="translate(354.00 1246.00) scale(0.9238 1)" x="0.00" y="0" font-size="29.3">(n=29)</text>
<line x1="212.00" y1="954.60" x2="294.00" y2="954.60" stroke="#000" stroke-width="3" stroke-linecap="round"/>
<line x1="213.60" y1="907.60" x2="375.60" y2="907.60" stroke="#000" stroke-width="3" stroke-linecap="round"/>
<text transform="translate(215.60 944.60) scale(0.8751 1)" x="0.00" y="0" font-size="29.3">p=0.006</text>
<text transform="translate(266.00 894.00) scale(0.8433 1)" x="0.00" y="0" font-size="29.3">p&lt;0.001</text>
<circle cx="214.20" cy="1131.20" r="6.00" fill="#fff" stroke="#a7a9ac" stroke-width="3"/>
<circle cx="218.16" cy="1129.04" r="6.00" fill="#fff" stroke="#a7a9ac" stroke-width="3"/>
<circle cx="215.76" cy="1110.56" r="6.00" fill="#fff" stroke="#a7a9ac" stroke-width="3"/>
<circle cx="214.80" cy="1094.60" r="6.00" fill="#fff" stroke="#a7a9ac" stroke-width="3"/>
<circle cx="217.80" cy="1088.96" r="6.00" fill="#fff" stroke="#a7a9ac" stroke-width="3"/>
<circle cx="213.96" cy="1068.20" r="6.00" fill="#fff" stroke="#a7a9ac" stroke-width="3"/>
<circle cx="217.20" cy="1058.00" r="6.00" fill="#fff" stroke="#a7a9ac" stroke-width="3"/>
<circle cx="214.20" cy="1056.20" r="6.00" fill="#fff" stroke="#a7a9ac" stroke-width="3"/>
<circle cx="217.80" cy="1046.00" r="6.00" fill="#fff" stroke="#a7a9ac" stroke-width="3"/>
<circle cx="216.00" cy="1032.80" r="6.00" fill="#fff" stroke="#a7a9ac" stroke-width="3"/>
<circle cx="202.20" cy="1029.80" r="6.00" fill="#fff" stroke="#a7a9ac" stroke-width="3"/>
<circle cx="205.80" cy="1026.80" r="6.00" fill="#fff" stroke="#a7a9ac" stroke-width="3"/>
<circle cx="216.00" cy="1028.00" r="6.00" fill="#fff" stroke="#a7a9ac" stroke-width="3"/>
<circle cx="210.60" cy="1026.56" r="6.00" fill="#fff" stroke="#a7a9ac" stroke-width="3"/>
<circle cx="218.40" cy="1026.80" r="6.00" fill="#fff" stroke="#a7a9ac" stroke-width="3"/>
<circle cx="229.80" cy="1026.20" r="6.00" fill="#fff" stroke="#a7a9ac" stroke-width="3"/>
<circle cx="296.16" cy="1081.16" r="6.00" fill="#fff" stroke="#808285" stroke-width="3"/>
<circle cx="302.40" cy="1042.40" r="6.00" fill="#fff" stroke="#808285" stroke-width="3"/>
<circle cx="285.60" cy="1038.80" r="6.00" fill="#fff" stroke="#808285" stroke-width="3"/>
<circle cx="307.20" cy="1032.80" r="6.00" fill="#fff" stroke="#808285" stroke-width="3"/>
<circle cx="294.00" cy="1036.40" r="6.00" fill="#fff" stroke="#808285" stroke-width="3"/>
<circle cx="282.60" cy="1029.80" r="6.00" fill="#fff" stroke="#808285" stroke-width="3"/>
<circle cx="285.60" cy="1028.00" r="6.00" fill="#fff" stroke="#808285" stroke-width="3"/>
<circle cx="304.80" cy="1026.80" r="6.00" fill="#fff" stroke="#808285" stroke-width="3"/>
<circle cx="290.40" cy="1026.80" r="6.00" fill="#fff" stroke="#808285" stroke-width="3"/>
<circle cx="300.00" cy="1026.20" r="6.00" fill="#fff" stroke="#808285" stroke-width="3"/>
<circle cx="295.20" cy="1025.60" r="6.00" fill="#fff" stroke="#808285" stroke-width="3"/>
<circle cx="310.80" cy="1026.20" r="6.00" fill="#fff" stroke="#808285" stroke-width="3"/>
<circle cx="296.16" cy="998.00" r="6.00" fill="#fff" stroke="#808285" stroke-width="3"/>
<circle cx="296.16" cy="989.60" r="6.00" fill="#fff" stroke="#808285" stroke-width="3"/>
<circle cx="296.16" cy="982.40" r="6.00" fill="#fff" stroke="#808285" stroke-width="3"/>
<circle cx="296.16" cy="966.20" r="6.00" fill="#fff" stroke="#808285" stroke-width="3"/>
<circle cx="375.60" cy="1073.36" r="6.00" fill="#fff" stroke="#2b2b2b" stroke-width="3"/>
<circle cx="379.20" cy="1073.36" r="6.00" fill="#fff" stroke="#2b2b2b" stroke-width="3"/>
<circle cx="378.00" cy="1048.16" r="6.00" fill="#fff" stroke="#2b2b2b" stroke-width="3"/>
<circle cx="373.80" cy="1048.16" r="6.00" fill="#fff" stroke="#2b2b2b" stroke-width="3"/>
<circle cx="376.56" cy="1033.76" r="6.00" fill="#fff" stroke="#2b2b2b" stroke-width="3"/>
<circle cx="376.56" cy="1013.00" r="6.00" fill="#fff" stroke="#2b2b2b" stroke-width="3"/>
<circle cx="362.40" cy="998.24" r="6.00" fill="#fff" stroke="#2b2b2b" stroke-width="3"/>
<circle cx="385.20" cy="998.24" r="6.00" fill="#fff" stroke="#2b2b2b" stroke-width="3"/>
<circle cx="368.40" cy="987.80" r="6.00" fill="#fff" stroke="#2b2b2b" stroke-width="3"/>
<circle cx="391.20" cy="987.44" r="6.00" fill="#fff" stroke="#2b2b2b" stroke-width="3"/>
<circle cx="379.80" cy="989.00" r="6.00" fill="#fff" stroke="#2b2b2b" stroke-width="3"/>
<circle cx="391.80" cy="978.56" r="6.00" fill="#fff" stroke="#2b2b2b" stroke-width="3"/>
<circle cx="362.40" cy="978.56" r="6.00" fill="#fff" stroke="#2b2b2b" stroke-width="3"/>
<circle cx="385.20" cy="978.56" r="6.00" fill="#fff" stroke="#2b2b2b" stroke-width="3"/>
<circle cx="379.80" cy="967.40" r="6.00" fill="#fff" stroke="#2b2b2b" stroke-width="3"/>
<circle cx="373.80" cy="968.60" r="6.00" fill="#fff" stroke="#2b2b2b" stroke-width="3"/>
<circle cx="382.80" cy="955.40" r="6.00" fill="#fff" stroke="#2b2b2b" stroke-width="3"/>
<circle cx="376.80" cy="956.00" r="6.00" fill="#fff" stroke="#2b2b2b" stroke-width="3"/>
<circle cx="370.80" cy="950.00" r="6.00" fill="#fff" stroke="#2b2b2b" stroke-width="3"/>
<circle cx="382.80" cy="949.40" r="6.00" fill="#fff" stroke="#2b2b2b" stroke-width="3"/>
<circle cx="376.20" cy="941.00" r="6.00" fill="#fff" stroke="#2b2b2b" stroke-width="3"/>
<circle cx="379.80" cy="932.00" r="6.00" fill="#fff" stroke="#2b2b2b" stroke-width="3"/>
<circle cx="374.40" cy="932.00" r="6.00" fill="#fff" stroke="#2b2b2b" stroke-width="3"/>
<text transform="translate(469.00 816.00)" x="0.00" y="0" font-size="30" font-weight="bold">e</text>
<path d="M701.02 1050.78 L882.25 1003.95" fill="none" stroke="#2a5b8f" stroke-width="2.5" />
<path d="M701.02 1029.57 C705.15 1029.40 717.47 1029.12 725.80 1028.52 C734.13 1027.93 743.30 1027.19 751.00 1026.00 C758.70 1024.81 765.00 1023.31 772.00 1021.38 C779.00 1019.46 784.25 1017.71 793.00 1014.45 C801.75 1011.20 814.00 1006.30 824.50 1001.85 C835.00 997.41 846.38 991.91 856.00 987.78 C865.63 983.65 877.88 978.86 882.25 977.07" fill="none" stroke="#2a5b8f" stroke-width="2.5" />
<path d="M701.02 1072.20 C705.15 1070.28 717.47 1064.15 725.80 1060.65 C734.13 1057.15 743.30 1053.76 751.00 1051.20 C758.70 1048.65 765.00 1047.25 772.00 1045.32 C779.00 1043.40 786.00 1041.23 793.00 1039.65 C800.00 1038.08 807.00 1036.92 814.00 1035.87 C821.00 1034.82 828.00 1033.98 835.00 1033.35 C842.00 1032.72 848.13 1032.34 856.00 1032.09 C863.88 1031.85 877.88 1031.92 882.25 1031.88" fill="none" stroke="#2a5b8f" stroke-width="2.5" />
<circle cx="701.02" cy="1018.86" r="5.20" fill="none" stroke="#000" stroke-width="2.6"/>
<circle cx="728.53" cy="1012.35" r="5.20" fill="none" stroke="#000" stroke-width="2.6"/>
<circle cx="747.22" cy="1018.23" r="5.20" fill="none" stroke="#000" stroke-width="2.6"/>
<circle cx="757.30" cy="1016.13" r="5.20" fill="none" stroke="#000" stroke-width="2.6"/>
<circle cx="769.48" cy="1017.60" r="5.20" fill="none" stroke="#000" stroke-width="2.6"/>
<circle cx="779.35" cy="1013.40" r="5.20" fill="none" stroke="#000" stroke-width="2.6"/>
<circle cx="795.73" cy="1016.13" r="5.20" fill="none" stroke="#000" stroke-width="2.6"/>
<circle cx="802.45" cy="1013.40" r="5.20" fill="none" stroke="#000" stroke-width="2.6"/>
<circle cx="814.00" cy="1017.60" r="5.20" fill="none" stroke="#000" stroke-width="2.6"/>
<circle cx="822.40" cy="1022.43" r="5.20" fill="none" stroke="#000" stroke-width="2.6"/>
<circle cx="832.90" cy="1012.77" r="5.20" fill="none" stroke="#000" stroke-width="2.6"/>
<circle cx="878.68" cy="984.42" r="5.20" fill="none" stroke="#000" stroke-width="2.6"/>
<circle cx="881.62" cy="1039.65" r="5.20" fill="none" stroke="#000" stroke-width="2.6"/>
<circle cx="743.23" cy="1037.55" r="5.20" fill="none" stroke="#000" stroke-width="2.6"/>
<circle cx="772.00" cy="1032.30" r="5.20" fill="none" stroke="#000" stroke-width="2.6"/>
<circle cx="702.28" cy="1061.70" r="5.20" fill="none" stroke="#000" stroke-width="2.6"/>
<circle cx="754.57" cy="1062.75" r="5.20" fill="none" stroke="#000" stroke-width="2.6"/>
<circle cx="751.00" cy="1068.63" r="5.20" fill="none" stroke="#000" stroke-width="2.6"/>
<circle cx="755.62" cy="1078.50" r="5.20" fill="none" stroke="#000" stroke-width="2.6"/>
<circle cx="719.50" cy="1094.46" r="5.20" fill="none" stroke="#000" stroke-width="2.6"/>
<line x1="641.80" y1="935.70" x2="641.80" y2="1149.50" stroke="#000" stroke-width="3.5" />
<line x1="627.00" y1="1134.80" x2="917.30" y2="1134.80" stroke="#000" stroke-width="3.5" />
<line x1="627.00" y1="937.40" x2="641.80" y2="937.40" stroke="#000" stroke-width="3.3" />
<text transform="translate(624.00 947.60) scale(0.9150 1)" x="-48.89" y="0" font-size="29.3">2e6</text>
<line x1="627.00" y1="986.75" x2="641.80" y2="986.75" stroke="#000" stroke-width="3.3" />
<text transform="translate(624.00 996.40) scale(0.9150 1)" x="-73.32" y="0" font-size="29.3">1.5e6</text>
<line x1="627.00" y1="1036.10" x2="641.80" y2="1036.10" stroke="#000" stroke-width="3.3" />
<text transform="translate(624.00 1045.60) scale(0.9150 1)" x="-48.89" y="0" font-size="29.3">1e6</text>
<line x1="627.00" y1="1085.45" x2="641.80" y2="1085.45" stroke="#000" stroke-width="3.3" />
<text transform="translate(624.00 1095.20) scale(0.9150 1)" x="-48.89" y="0" font-size="29.3">5e5</text>
<text transform="translate(623.60 1140.40) scale(0.9150 1)" x="-16.30" y="0" font-size="29.3">0</text>
<line x1="641.80" y1="1134.80" x2="641.80" y2="1149.50" stroke="#000" stroke-width="3.3" />
<text transform="translate(641.80 1180.30) scale(0.9150 1)" x="-16.30" y="0" font-size="29.3">60</text>
<line x1="696.40" y1="1134.80" x2="696.40" y2="1149.50" stroke="#000" stroke-width="3.3" />
<text transform="translate(696.40 1180.30) scale(0.9150 1)" x="-16.30" y="0" font-size="29.3">80</text>
<line x1="751.00" y1="1134.80" x2="751.00" y2="1149.50" stroke="#000" stroke-width="3.3" />
<text transform="translate(751.00 1180.30) scale(0.9150 1)" x="-24.44" y="0" font-size="29.3">100</text>
<line x1="805.70" y1="1134.80" x2="805.70" y2="1149.50" stroke="#000" stroke-width="3.3" />
<text transform="translate(805.70 1180.30) scale(0.9150 1)" x="-24.44" y="0" font-size="29.3">120</text>
<line x1="861.00" y1="1134.80" x2="861.00" y2="1149.50" stroke="#000" stroke-width="3.3" />
<text transform="translate(861.00 1180.30) scale(0.9150 1)" x="-24.44" y="0" font-size="29.3">140</text>
<line x1="915.80" y1="1134.80" x2="915.80" y2="1149.50" stroke="#000" stroke-width="3.3" />
<text transform="translate(915.80 1180.30) scale(0.9150 1)" x="-24.44" y="0" font-size="29.3">160</text>
<text transform="translate(690.00 1214.40) scale(0.9025 1)" x="0.00" y="0" font-size="29.3">IL-1Ra (pg/ml)</text>
<text transform="translate(548.80 1039.30) rotate(-90) scale(0.8791 1)" x="-142.47" y="0" font-size="29.3">sCD26/DPPIV (pg/ml)</text>
<text transform="translate(817.30 1093.60) scale(0.8803 1)" x="0.00" y="0" font-size="29.3">r=0.476</text>
<text transform="translate(817.30 1120.80) scale(0.8789 1)" x="0.00" y="0" font-size="29.3">p=0.034</text>
<text transform="translate(967.60 816.00)" x="0.00" y="0" font-size="30" font-weight="bold">f</text>
<path d="M1153.43 1063.80 L1355.03 1021.38" fill="none" stroke="#2a5b8f" stroke-width="2.5" />
<path d="M1153.43 1041.75 C1157.53 1041.65 1170.41 1041.47 1178.00 1041.12 C1185.60 1040.77 1192.00 1040.21 1199.00 1039.65 C1206.00 1039.09 1213.00 1038.46 1220.00 1037.76 C1227.00 1037.06 1234.00 1036.64 1241.00 1035.45 C1248.00 1034.26 1255.00 1032.55 1262.00 1030.62 C1269.00 1028.70 1274.25 1026.95 1283.00 1023.90 C1291.75 1020.86 1302.50 1016.83 1314.50 1012.35 C1326.51 1007.87 1348.28 999.58 1355.03 997.02" fill="none" stroke="#2a5b8f" stroke-width="2.5" />
<path d="M1153.43 1085.22 C1157.53 1083.68 1170.41 1078.85 1178.00 1075.98 C1185.60 1073.11 1192.00 1070.45 1199.00 1068.00 C1206.00 1065.55 1213.00 1063.21 1220.00 1061.28 C1227.00 1059.36 1234.00 1057.96 1241.00 1056.45 C1248.00 1054.95 1255.00 1053.41 1262.00 1052.25 C1269.00 1051.10 1276.00 1050.22 1283.00 1049.52 C1290.00 1048.82 1297.00 1048.40 1304.00 1048.05 C1311.00 1047.70 1316.50 1047.67 1325.00 1047.42 C1333.51 1047.18 1350.03 1046.72 1355.03 1046.58" fill="none" stroke="#2a5b8f" stroke-width="2.5" />
<circle cx="1153.85" cy="1051.62" r="5.20" fill="none" stroke="#000" stroke-width="2.6"/>
<circle cx="1162.25" cy="1035.45" r="5.20" fill="none" stroke="#000" stroke-width="2.6"/>
<circle cx="1170.02" cy="1032.30" r="5.20" fill="none" stroke="#000" stroke-width="2.6"/>
<circle cx="1223.78" cy="1032.30" r="5.20" fill="none" stroke="#000" stroke-width="2.6"/>
<circle cx="1242.05" cy="1030.62" r="5.20" fill="none" stroke="#000" stroke-width="2.6"/>
<circle cx="1243.10" cy="1030.62" r="5.20" fill="none" stroke="#000" stroke-width="2.6"/>
<circle cx="1258.85" cy="1027.05" r="5.20" fill="none" stroke="#000" stroke-width="2.6"/>
<circle cx="1258.85" cy="1031.88" r="5.20" fill="none" stroke="#000" stroke-width="2.6"/>
<circle cx="1270.40" cy="1030.20" r="5.20" fill="none" stroke="#000" stroke-width="2.6"/>
<circle cx="1301.90" cy="1026.63" r="5.20" fill="none" stroke="#000" stroke-width="2.6"/>
<circle cx="1332.35" cy="1027.47" r="5.20" fill="none" stroke="#000" stroke-width="2.6"/>
<circle cx="1337.18" cy="1026.42" r="5.20" fill="none" stroke="#000" stroke-width="2.6"/>
<circle cx="1355.03" cy="1000.80" r="5.20" fill="none" stroke="#000" stroke-width="2.6"/>
<circle cx="1223.78" cy="1049.52" r="5.20" fill="none" stroke="#000" stroke-width="2.6"/>
<circle cx="1279.43" cy="1044.48" r="5.20" fill="none" stroke="#000" stroke-width="2.6"/>
<circle cx="1196.90" cy="1078.50" r="5.20" fill="none" stroke="#000" stroke-width="2.6"/>
<circle cx="1220.00" cy="1072.20" r="5.20" fill="none" stroke="#000" stroke-width="2.6"/>
<circle cx="1224.20" cy="1073.88" r="5.20" fill="none" stroke="#000" stroke-width="2.6"/>
<circle cx="1235.12" cy="1087.32" r="5.20" fill="none" stroke="#000" stroke-width="2.6"/>
<circle cx="1240.58" cy="1102.02" r="5.20" fill="none" stroke="#000" stroke-width="2.6"/>
<line x1="1140.60" y1="955.40" x2="1140.60" y2="1153.00" stroke="#000" stroke-width="3.5" />
<line x1="1126.50" y1="1139.00" x2="1394.30" y2="1139.00" stroke="#000" stroke-width="3.5" />
<line x1="1126.50" y1="957.10" x2="1140.60" y2="957.10" stroke="#000" stroke-width="3.3" />
<text transform="translate(1125.20 966.40) scale(0.9150 1)" x="-48.89" y="0" font-size="29.3">2e6</text>
<line x1="1126.50" y1="1002.58" x2="1140.60" y2="1002.58" stroke="#000" stroke-width="3.3" />
<text transform="translate(1125.20 1011.60) scale(0.9150 1)" x="-73.32" y="0" font-size="29.3">1.5e6</text>
<line x1="1126.50" y1="1048.05" x2="1140.60" y2="1048.05" stroke="#000" stroke-width="3.3" />
<text transform="translate(1125.20 1057.20) scale(0.9150 1)" x="-48.89" y="0" font-size="29.3">1e6</text>
<line x1="1126.50" y1="1093.53" x2="1140.60" y2="1093.53" stroke="#000" stroke-width="3.3" />
<text transform="translate(1125.20 1103.20) scale(0.9150 1)" x="-48.89" y="0" font-size="29.3">5e5</text>
<text transform="translate(1122.30 1145.20) scale(0.9150 1)" x="-16.30" y="0" font-size="29.3">0</text>
<line x1="1140.60" y1="1139.00" x2="1140.60" y2="1153.00" stroke="#000" stroke-width="3.3" />
<text transform="translate(1140.60 1180.30) scale(0.9150 1)" x="-8.15" y="0" font-size="29.3">0</text>
<line x1="1190.60" y1="1139.00" x2="1190.60" y2="1153.00" stroke="#000" stroke-width="3.3" />
<text transform="translate(1190.60 1180.30) scale(0.9150 1)" x="-8.15" y="0" font-size="29.3">3</text>
<line x1="1241.00" y1="1139.00" x2="1241.00" y2="1153.00" stroke="#000" stroke-width="3.3" />
<text transform="translate(1241.00 1180.30) scale(0.9150 1)" x="-8.15" y="0" font-size="29.3">6</text>
<line x1="1291.40" y1="1139.00" x2="1291.40" y2="1153.00" stroke="#000" stroke-width="3.3" />
<text transform="translate(1291.40 1180.30) scale(0.9150 1)" x="-8.15" y="0" font-size="29.3">9</text>
<line x1="1342.20" y1="1139.00" x2="1342.20" y2="1153.00" stroke="#000" stroke-width="3.3" />
<text transform="translate(1342.20 1180.30) scale(0.9150 1)" x="-16.30" y="0" font-size="29.3">12</text>
<line x1="1392.80" y1="1139.00" x2="1392.80" y2="1153.00" stroke="#000" stroke-width="3.3" />
<text transform="translate(1392.80 1180.30) scale(0.9150 1)" x="-16.30" y="0" font-size="29.3">15</text>
<text transform="translate(1172.70 1210.80) scale(0.9139 1)" x="0.00" y="0" font-size="29.3">IL-1β (pg/ml)</text>
<text transform="translate(1054.80 1041.70) rotate(-90) scale(0.8791 1)" x="-142.47" y="0" font-size="29.3">sCD26/DPPIV (pg/ml)</text>
<text transform="translate(1308.20 1098.40) scale(0.8703 1)" x="0.00" y="0" font-size="29.3">r=0.450</text>
<text transform="translate(1308.20 1126.80) scale(0.8695 1)" x="0.00" y="0" font-size="29.3">p=0.046</text>
<text transform="translate(1451.00 815.50)" x="0.00" y="0" font-size="30" font-weight="bold">g</text>
<path d="M1639.52 1057.92 L1832.30 1010.25" fill="none" stroke="#2a5b8f" stroke-width="2.5" />
<path d="M1639.52 1036.08 C1644.35 1035.73 1658.42 1034.79 1668.50 1033.98 C1678.58 1033.18 1691.25 1032.30 1700.00 1031.25 C1708.75 1030.20 1714.00 1029.08 1721.00 1027.68 C1728.00 1026.28 1735.00 1024.81 1742.00 1022.85 C1749.00 1020.89 1756.00 1018.55 1763.00 1015.92 C1770.00 1013.30 1777.00 1010.04 1784.00 1007.10 C1791.00 1004.16 1796.95 1001.43 1805.00 998.28 C1813.05 995.13 1827.75 989.88 1832.30 988.20" fill="none" stroke="#2a5b8f" stroke-width="2.5" />
<path d="M1639.52 1079.97 C1642.60 1078.50 1651.42 1074.02 1658.00 1071.15 C1664.58 1068.28 1672.00 1065.38 1679.00 1062.75 C1686.00 1060.13 1693.00 1057.68 1700.00 1055.40 C1707.00 1053.13 1714.00 1050.92 1721.00 1049.10 C1728.00 1047.28 1735.00 1045.88 1742.00 1044.48 C1749.00 1043.08 1756.00 1041.86 1763.00 1040.70 C1770.00 1039.55 1777.00 1038.43 1784.00 1037.55 C1791.00 1036.68 1796.95 1036.26 1805.00 1035.45 C1813.05 1034.65 1827.75 1033.18 1832.30 1032.72" fill="none" stroke="#2a5b8f" stroke-width="2.5" />
<circle cx="1640.15" cy="1015.50" r="5.20" fill="none" stroke="#000" stroke-width="2.6"/>
<circle cx="1656.53" cy="1021.80" r="5.20" fill="none" stroke="#000" stroke-width="2.6"/>
<circle cx="1677.95" cy="1039.65" r="5.20" fill="none" stroke="#000" stroke-width="2.6"/>
<circle cx="1693.07" cy="1035.03" r="5.20" fill="none" stroke="#000" stroke-width="2.6"/>
<circle cx="1744.10" cy="1019.28" r="5.20" fill="none" stroke="#000" stroke-width="2.6"/>
<circle cx="1750.40" cy="1015.50" r="5.20" fill="none" stroke="#000" stroke-width="2.6"/>
<circle cx="1744.10" cy="1026.00" r="5.20" fill="none" stroke="#000" stroke-width="2.6"/>
<circle cx="1757.12" cy="1021.80" r="5.20" fill="none" stroke="#000" stroke-width="2.6"/>
<circle cx="1779.38" cy="988.62" r="5.20" fill="none" stroke="#000" stroke-width="2.6"/>
<circle cx="1779.38" cy="1017.18" r="5.20" fill="none" stroke="#000" stroke-width="2.6"/>
<circle cx="1791.98" cy="1016.13" r="5.20" fill="none" stroke="#000" stroke-width="2.6"/>
<circle cx="1801.43" cy="1020.75" r="5.20" fill="none" stroke="#000" stroke-width="2.6"/>
<circle cx="1831.67" cy="1019.28" r="5.20" fill="none" stroke="#000" stroke-width="2.6"/>
<circle cx="1779.38" cy="1042.80" r="5.20" fill="none" stroke="#000" stroke-width="2.6"/>
<circle cx="1693.07" cy="1062.75" r="5.20" fill="none" stroke="#000" stroke-width="2.6"/>
<circle cx="1693.07" cy="1070.10" r="5.20" fill="none" stroke="#000" stroke-width="2.6"/>
<circle cx="1727.72" cy="1065.90" r="5.20" fill="none" stroke="#000" stroke-width="2.6"/>
<circle cx="1677.95" cy="1079.97" r="5.20" fill="none" stroke="#000" stroke-width="2.6"/>
<circle cx="1668.92" cy="1095.30" r="5.20" fill="none" stroke="#000" stroke-width="2.6"/>
<line x1="1616.60" y1="941.80" x2="1616.60" y2="1148.80" stroke="#000" stroke-width="3.5" />
<line x1="1603.40" y1="1134.10" x2="1883.00" y2="1134.10" stroke="#000" stroke-width="3.5" />
<line x1="1603.40" y1="943.50" x2="1616.60" y2="943.50" stroke="#000" stroke-width="3.3" />
<text transform="translate(1604.00 956.40) scale(0.9150 1)" x="-48.89" y="0" font-size="29.3">2e6</text>
<line x1="1603.40" y1="991.15" x2="1616.60" y2="991.15" stroke="#000" stroke-width="3.3" />
<text transform="translate(1604.00 1001.60) scale(0.9150 1)" x="-73.32" y="0" font-size="29.3">1.5e6</text>
<line x1="1603.40" y1="1038.80" x2="1616.60" y2="1038.80" stroke="#000" stroke-width="3.3" />
<text transform="translate(1604.00 1047.20) scale(0.9150 1)" x="-48.89" y="0" font-size="29.3">1e6</text>
<line x1="1603.40" y1="1086.45" x2="1616.60" y2="1086.45" stroke="#000" stroke-width="3.3" />
<text transform="translate(1604.00 1092.40) scale(0.9150 1)" x="-48.89" y="0" font-size="29.3">5e5</text>
<text transform="translate(1602.30 1138.40) scale(0.9150 1)" x="-16.30" y="0" font-size="29.3">0</text>
<line x1="1616.60" y1="1134.10" x2="1616.60" y2="1148.80" stroke="#000" stroke-width="3.3" />
<text transform="translate(1616.60 1177.20) scale(0.9150 1)" x="-8.15" y="0" font-size="29.3">0</text>
<line x1="1683.20" y1="1134.10" x2="1683.20" y2="1148.80" stroke="#000" stroke-width="3.3" />
<text transform="translate(1683.20 1177.20) scale(0.9150 1)" x="-16.30" y="0" font-size="29.3">20</text>
<line x1="1749.30" y1="1134.10" x2="1749.30" y2="1148.80" stroke="#000" stroke-width="3.3" />
<text transform="translate(1749.30 1177.20) scale(0.9150 1)" x="-16.30" y="0" font-size="29.3">40</text>
<line x1="1815.50" y1="1134.10" x2="1815.50" y2="1148.80" stroke="#000" stroke-width="3.3" />
<text transform="translate(1815.50 1177.20) scale(0.9150 1)" x="-16.30" y="0" font-size="29.3">60</text>
<line x1="1881.60" y1="1134.10" x2="1881.60" y2="1148.80" stroke="#000" stroke-width="3.3" />
<text transform="translate(1881.60 1177.20) scale(0.9150 1)" x="-16.30" y="0" font-size="29.3">80</text>
<text transform="translate(1680.00 1210.80) scale(0.9122 1)" x="0.00" y="0" font-size="29.3">LIF (pg/ml)</text>
<text transform="translate(1525.20 1041.70) rotate(-90) scale(0.8791 1)" x="-142.47" y="0" font-size="29.3">sCD26/DPPIV (pg/ml)</text>
<text transform="translate(1635.50 957.70) scale(0.8703 1)" x="0.00" y="0" font-size="29.3">r=0.517</text>
<text transform="translate(1635.50 987.10) scale(0.8695 1)" x="0.00" y="0" font-size="29.3">p=0.020</text>
<text transform="translate(22.00 1308.50)" x="0.00" y="0" font-size="30" font-weight="bold">h</text>
<path d="M200.28 1443.42 L431.70 1524.48" fill="none" stroke="#2a5b8f" stroke-width="2.5" />
<path d="M200.28 1431.03 C204.90 1433.03 216.38 1438.28 228.00 1443.00 C239.62 1447.73 257.75 1454.83 270.00 1459.38 C282.25 1463.93 291.00 1466.84 301.50 1470.30 C312.00 1473.77 320.75 1476.67 333.00 1480.17 C345.25 1483.67 358.55 1487.35 375.00 1491.30 C391.45 1495.26 422.25 1501.80 431.70 1503.90" fill="none" stroke="#2a5b8f" stroke-width="2.5" />
<path d="M200.28 1455.60 C204.90 1457.11 216.38 1460.43 228.00 1464.63 C239.62 1468.83 257.75 1476.18 270.00 1480.80 C282.25 1485.42 291.00 1488.33 301.50 1492.35 C312.00 1496.38 320.75 1500.16 333.00 1504.95 C345.25 1509.75 358.55 1514.47 375.00 1521.12 C391.45 1527.77 422.25 1540.90 431.70 1544.85" fill="none" stroke="#2a5b8f" stroke-width="2.5" />
<circle cx="201.12" cy="1451.40" r="5.20" fill="none" stroke="#000" stroke-width="2.6"/>
<circle cx="201.12" cy="1458.12" r="5.20" fill="none" stroke="#000" stroke-width="2.6"/>
<circle cx="216.45" cy="1454.13" r="5.20" fill="none" stroke="#000" stroke-width="2.6"/>
<circle cx="219.60" cy="1456.65" r="5.20" fill="none" stroke="#000" stroke-width="2.6"/>
<circle cx="228.63" cy="1461.48" r="5.20" fill="none" stroke="#000" stroke-width="2.6"/>
<circle cx="233.67" cy="1451.40" r="5.20" fill="none" stroke="#000" stroke-width="2.6"/>
<circle cx="238.08" cy="1456.02" r="5.20" fill="none" stroke="#000" stroke-width="2.6"/>
<circle cx="251.52" cy="1451.40" r="5.20" fill="none" stroke="#000" stroke-width="2.6"/>
<circle cx="255.30" cy="1456.65" r="5.20" fill="none" stroke="#000" stroke-width="2.6"/>
<circle cx="271.05" cy="1422.42" r="5.20" fill="none" stroke="#000" stroke-width="2.6"/>
<circle cx="276.30" cy="1451.40" r="5.20" fill="none" stroke="#000" stroke-width="2.6"/>
<circle cx="317.88" cy="1454.55" r="5.20" fill="none" stroke="#000" stroke-width="2.6"/>
<circle cx="240.60" cy="1476.60" r="5.20" fill="none" stroke="#000" stroke-width="2.6"/>
<circle cx="247.95" cy="1470.72" r="5.20" fill="none" stroke="#000" stroke-width="2.6"/>
<circle cx="304.65" cy="1479.12" r="5.20" fill="none" stroke="#000" stroke-width="2.6"/>
<circle cx="321.03" cy="1507.68" r="5.20" fill="none" stroke="#000" stroke-width="2.6"/>
<circle cx="342.03" cy="1503.27" r="5.20" fill="none" stroke="#000" stroke-width="2.6"/>
<circle cx="358.20" cy="1500.33" r="5.20" fill="none" stroke="#000" stroke-width="2.6"/>
<circle cx="397.47" cy="1517.97" r="5.20" fill="none" stroke="#000" stroke-width="2.6"/>
<circle cx="430.65" cy="1534.77" r="5.20" fill="none" stroke="#000" stroke-width="2.6"/>
<line x1="195.40" y1="1373.70" x2="195.40" y2="1591.00" stroke="#000" stroke-width="3.5" />
<line x1="179.30" y1="1575.30" x2="468.00" y2="1575.30" stroke="#000" stroke-width="3.5" />
<line x1="179.30" y1="1375.40" x2="195.40" y2="1375.40" stroke="#000" stroke-width="3.3" />
<text transform="translate(176.80 1386.80) scale(0.9150 1)" x="-48.89" y="0" font-size="29.3">2e6</text>
<line x1="179.30" y1="1425.38" x2="195.40" y2="1425.38" stroke="#000" stroke-width="3.3" />
<text transform="translate(176.80 1436.80) scale(0.9150 1)" x="-73.32" y="0" font-size="29.3">1.5e6</text>
<line x1="179.30" y1="1475.35" x2="195.40" y2="1475.35" stroke="#000" stroke-width="3.3" />
<text transform="translate(176.80 1486.80) scale(0.9150 1)" x="-48.89" y="0" font-size="29.3">1e6</text>
<line x1="179.30" y1="1525.33" x2="195.40" y2="1525.33" stroke="#000" stroke-width="3.3" />
<text transform="translate(176.80 1536.40) scale(0.9150 1)" x="-48.89" y="0" font-size="29.3">5e5</text>
<text transform="translate(175.20 1582.80) scale(0.9150 1)" x="-16.30" y="0" font-size="29.3">0</text>
<line x1="195.40" y1="1575.30" x2="195.40" y2="1591.00" stroke="#000" stroke-width="3.3" />
<text transform="translate(195.40 1623.60) scale(0.9150 1)" x="-8.15" y="0" font-size="29.3">0</text>
<line x1="273.10" y1="1575.30" x2="273.10" y2="1591.00" stroke="#000" stroke-width="3.3" />
<text transform="translate(273.10 1623.60) scale(0.9150 1)" x="-24.44" y="0" font-size="29.3">100</text>
<line x1="350.80" y1="1575.30" x2="350.80" y2="1591.00" stroke="#000" stroke-width="3.3" />
<text transform="translate(350.80 1623.60) scale(0.9150 1)" x="-24.44" y="0" font-size="29.3">200</text>
<line x1="428.50" y1="1575.30" x2="428.50" y2="1591.00" stroke="#000" stroke-width="3.3" />
<text transform="translate(428.50 1623.60) scale(0.9150 1)" x="-24.44" y="0" font-size="29.3">300</text>
<text transform="translate(240.60 1660.30) scale(0.9079 1)" x="0.00" y="0" font-size="29.3">IL-18 (pg/ml)</text>
<text transform="translate(98.00 1484.50) rotate(-90) scale(0.8791 1)" x="-142.47" y="0" font-size="29.3">sCD26/DPPIV (pg/ml)</text>
<text transform="translate(208.00 1533.30) scale(0.8313 1)" x="0.00" y="0" font-size="29.3">r=-0.811</text>
<text transform="translate(207.00 1559.50) scale(0.8461 1)" x="0.00" y="0" font-size="29.3">p&lt;0.001</text>
<text transform="translate(469.80 1308.50)" x="0.00" y="0" font-size="30" font-weight="bold">i</text>
<path d="M676.50 1457.70 L879.15 1465.05" fill="none" stroke="#2a5b8f" stroke-width="3.2" />
<path d="M676.50 1431.45 C680.00 1432.33 690.50 1435.13 697.50 1436.70 C704.50 1438.28 711.50 1439.68 718.50 1440.90 C725.50 1442.13 732.50 1443.14 739.50 1444.05 C746.50 1444.96 753.50 1445.80 760.50 1446.36 C767.50 1446.92 774.50 1447.34 781.50 1447.41 C788.50 1447.48 795.50 1447.34 802.50 1446.78 C809.50 1446.22 816.50 1445.10 823.50 1444.05 C830.50 1443.00 835.23 1442.06 844.50 1440.48 C853.78 1438.91 873.38 1435.58 879.15 1434.60" fill="none" stroke="#2a5b8f" stroke-width="3.2" />
<path d="M676.50 1483.32 C680.00 1482.73 690.50 1480.87 697.50 1479.75 C704.50 1478.63 711.50 1477.41 718.50 1476.60 C725.50 1475.80 732.50 1475.27 739.50 1474.92 C746.50 1474.57 753.50 1474.36 760.50 1474.50 C767.50 1474.64 774.50 1475.06 781.50 1475.76 C788.50 1476.46 795.50 1477.58 802.50 1478.70 C809.50 1479.82 816.50 1481.01 823.50 1482.48 C830.50 1483.95 835.23 1485.28 844.50 1487.52 C853.78 1489.76 873.38 1494.52 879.15 1495.92" fill="none" stroke="#2a5b8f" stroke-width="3.2" />
<circle cx="676.92" cy="1440.90" r="5.10" fill="none" stroke="#000" stroke-width="3.1"/>
<circle cx="688.47" cy="1447.20" r="5.10" fill="none" stroke="#000" stroke-width="3.1"/>
<circle cx="698.97" cy="1444.68" r="5.10" fill="none" stroke="#000" stroke-width="3.1"/>
<circle cx="712.20" cy="1441.95" r="5.10" fill="none" stroke="#000" stroke-width="3.1"/>
<circle cx="733.20" cy="1446.78" r="5.10" fill="none" stroke="#000" stroke-width="3.1"/>
<circle cx="773.52" cy="1445.73" r="5.10" fill="none" stroke="#000" stroke-width="3.1"/>
<circle cx="773.52" cy="1451.40" r="5.10" fill="none" stroke="#000" stroke-width="3.1"/>
<circle cx="784.65" cy="1441.32" r="5.10" fill="none" stroke="#000" stroke-width="3.1"/>
<circle cx="787.80" cy="1446.78" r="5.10" fill="none" stroke="#000" stroke-width="3.1"/>
<circle cx="811.53" cy="1440.90" r="5.10" fill="none" stroke="#000" stroke-width="3.1"/>
<circle cx="815.10" cy="1411.92" r="5.10" fill="none" stroke="#000" stroke-width="3.1"/>
<circle cx="879.15" cy="1446.15" r="5.10" fill="none" stroke="#000" stroke-width="3.1"/>
<circle cx="873.90" cy="1469.25" r="5.10" fill="none" stroke="#000" stroke-width="3.1"/>
<circle cx="719.97" cy="1461.48" r="5.10" fill="none" stroke="#000" stroke-width="3.1"/>
<circle cx="727.95" cy="1466.52" r="5.10" fill="none" stroke="#000" stroke-width="3.1"/>
<circle cx="727.95" cy="1491.93" r="5.10" fill="none" stroke="#000" stroke-width="3.1"/>
<circle cx="733.20" cy="1508.73" r="5.10" fill="none" stroke="#000" stroke-width="3.1"/>
<circle cx="784.65" cy="1499.28" r="5.10" fill="none" stroke="#000" stroke-width="3.1"/>
<circle cx="832.95" cy="1494.03" r="5.10" fill="none" stroke="#000" stroke-width="3.1"/>
<circle cx="798.93" cy="1525.53" r="5.10" fill="none" stroke="#000" stroke-width="3.1"/>
<line x1="660.30" y1="1361.90" x2="660.30" y2="1582.60" stroke="#000" stroke-width="3.5" />
<line x1="647.00" y1="1567.30" x2="945.30" y2="1567.30" stroke="#000" stroke-width="3.5" />
<line x1="647.00" y1="1363.60" x2="660.30" y2="1363.60" stroke="#000" stroke-width="3.3" />
<text transform="translate(650.00 1374.40) scale(0.9150 1)" x="-48.89" y="0" font-size="29.3">2e6</text>
<line x1="647.00" y1="1414.52" x2="660.30" y2="1414.52" stroke="#000" stroke-width="3.3" />
<text transform="translate(650.00 1421.80) scale(0.9150 1)" x="-73.32" y="0" font-size="29.3">1.5e6</text>
<line x1="647.00" y1="1465.45" x2="660.30" y2="1465.45" stroke="#000" stroke-width="3.3" />
<text transform="translate(650.00 1474.80) scale(0.9150 1)" x="-48.89" y="0" font-size="29.3">1e6</text>
<line x1="647.00" y1="1516.38" x2="660.30" y2="1516.38" stroke="#000" stroke-width="3.3" />
<text transform="translate(650.00 1524.00) scale(0.9150 1)" x="-48.89" y="0" font-size="29.3">5e5</text>
<text transform="translate(645.30 1573.60) scale(0.9150 1)" x="-16.30" y="0" font-size="29.3">0</text>
<line x1="660.30" y1="1567.30" x2="660.30" y2="1582.60" stroke="#000" stroke-width="3.3" />
<text transform="translate(660.30 1613.50) scale(0.9150 1)" x="-8.15" y="0" font-size="29.3">0</text>
<line x1="754.20" y1="1567.30" x2="754.20" y2="1582.60" stroke="#000" stroke-width="3.3" />
<text transform="translate(754.20 1613.50) scale(0.9150 1)" x="-16.30" y="0" font-size="29.3">50</text>
<line x1="849.30" y1="1567.30" x2="849.30" y2="1582.60" stroke="#000" stroke-width="3.3" />
<text transform="translate(849.30 1613.50) scale(0.9150 1)" x="-24.44" y="0" font-size="29.3">100</text>
<line x1="943.60" y1="1567.30" x2="943.60" y2="1582.60" stroke="#000" stroke-width="3.3" />
<text transform="translate(943.60 1613.50) scale(0.9150 1)" x="-24.44" y="0" font-size="29.3">150</text>
<text transform="translate(726.50 1643.50) scale(0.9136 1)" x="0.00" y="0" font-size="29.3">IL-1α(pg/ml)</text>
<text transform="translate(581.20 1467.70) rotate(-90) scale(0.8791 1)" x="-142.47" y="0" font-size="29.3">sCD26/DPPIV (pg/ml)</text>
<text transform="translate(684.50 1378.00) scale(0.8733 1)" x="0.00" y="0" font-size="29.3">r=0.006</text>
<text transform="translate(684.50 1407.30) scale(0.8620 1)" x="0.00" y="0" font-size="29.3">p=0.741</text>
</svg>
</body>
</html>
